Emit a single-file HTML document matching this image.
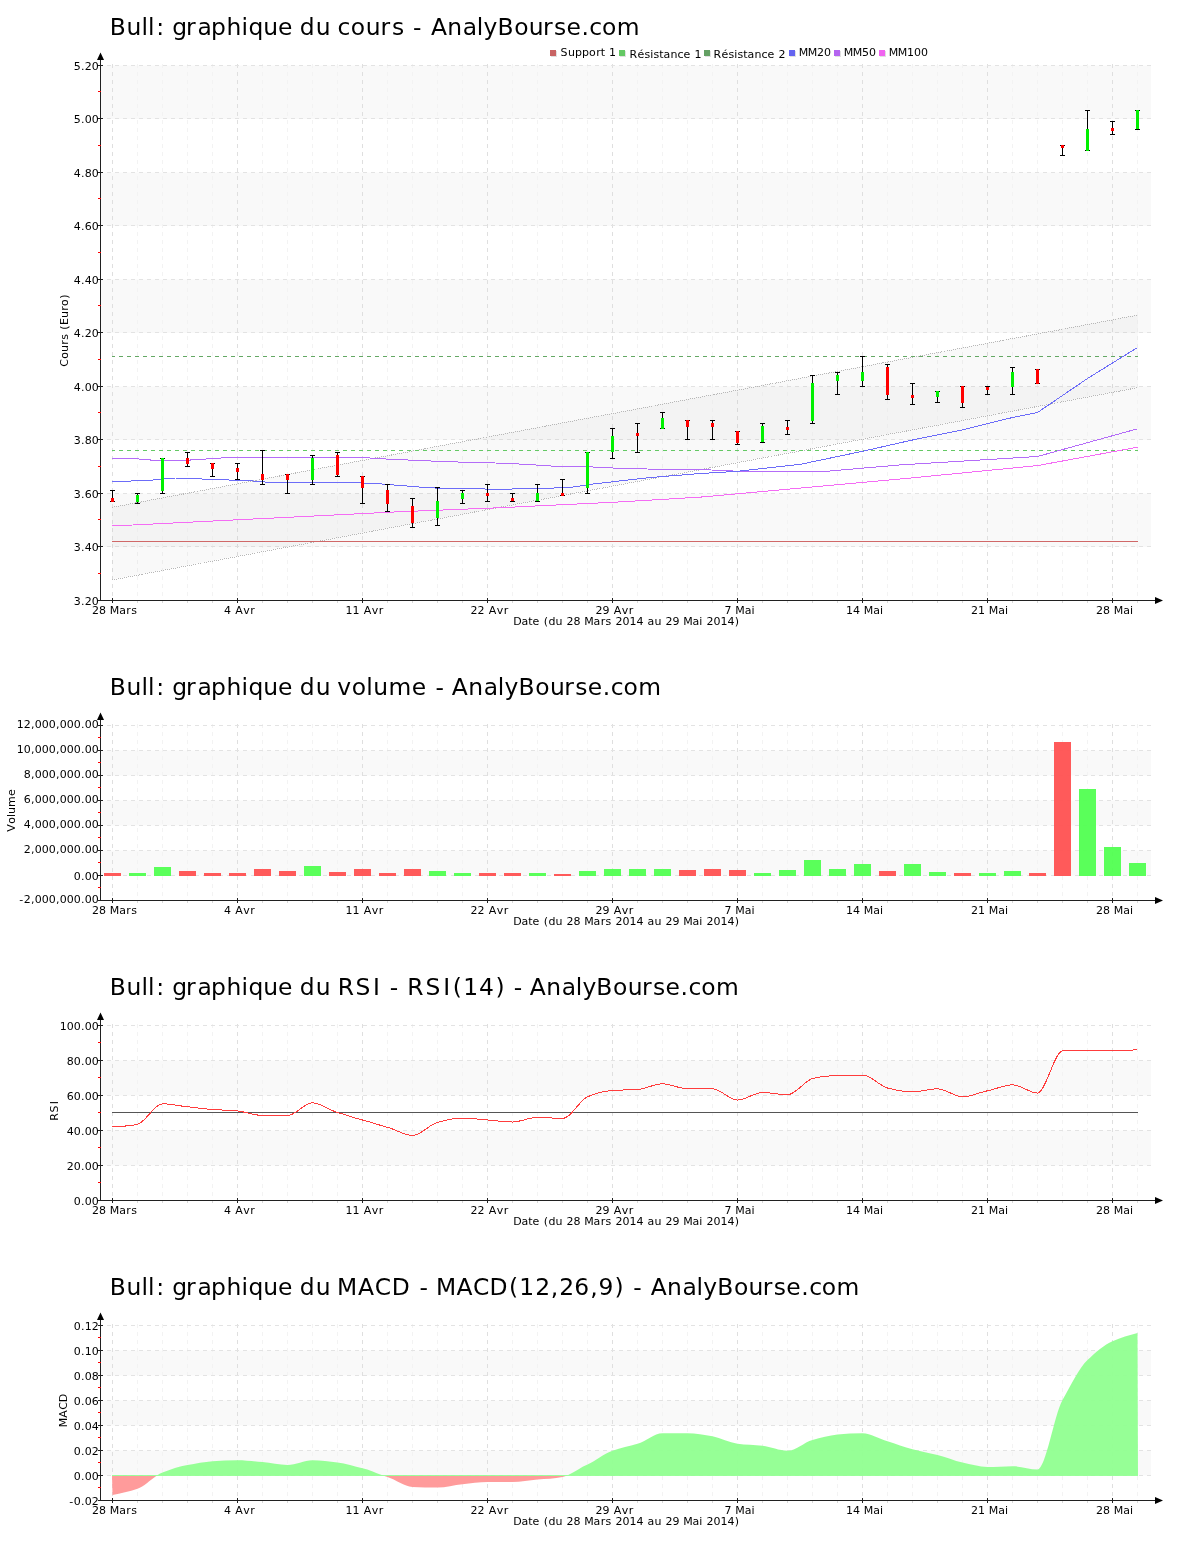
<!DOCTYPE html>
<html lang="fr"><head><meta charset="utf-8"><title>Bull - AnalyBourse.com</title>
<style>
html,body{margin:0;padding:0;background:#fff}
svg{display:block}
text{font-family:'DejaVu Sans','Liberation Sans',sans-serif;fill:#000}
.t{font-size:23.4px}
.s{font-size:11px}
</style></head><body>
<svg width="1200" height="1550" viewBox="0 0 1200 1550">
<rect width="1200" height="1550" fill="#fff"/>
<rect x="101" y="493.50" width="1050" height="53.50" fill="#f9f9f9"/>
<rect x="101" y="386.50" width="1050" height="53.50" fill="#f9f9f9"/>
<rect x="101" y="279.50" width="1050" height="53.50" fill="#f9f9f9"/>
<rect x="101" y="172.50" width="1050" height="53.50" fill="#f9f9f9"/>
<rect x="101" y="65.50" width="1050" height="53.50" fill="#f9f9f9"/>
<line x1="112.5" y1="64" x2="112.5" y2="600" stroke="#dfdfdf" stroke-dasharray="4 4" shape-rendering="crispEdges"/>
<line x1="137.5" y1="64" x2="137.5" y2="600" stroke="#f3f3f3" stroke-dasharray="4 4" shape-rendering="crispEdges"/>
<line x1="162.5" y1="64" x2="162.5" y2="600" stroke="#f3f3f3" stroke-dasharray="4 4" shape-rendering="crispEdges"/>
<line x1="187.5" y1="64" x2="187.5" y2="600" stroke="#f3f3f3" stroke-dasharray="4 4" shape-rendering="crispEdges"/>
<line x1="212.5" y1="64" x2="212.5" y2="600" stroke="#f3f3f3" stroke-dasharray="4 4" shape-rendering="crispEdges"/>
<line x1="237.5" y1="64" x2="237.5" y2="600" stroke="#dfdfdf" stroke-dasharray="4 4" shape-rendering="crispEdges"/>
<line x1="262.5" y1="64" x2="262.5" y2="600" stroke="#f3f3f3" stroke-dasharray="4 4" shape-rendering="crispEdges"/>
<line x1="287.5" y1="64" x2="287.5" y2="600" stroke="#f3f3f3" stroke-dasharray="4 4" shape-rendering="crispEdges"/>
<line x1="312.5" y1="64" x2="312.5" y2="600" stroke="#f3f3f3" stroke-dasharray="4 4" shape-rendering="crispEdges"/>
<line x1="337.5" y1="64" x2="337.5" y2="600" stroke="#f3f3f3" stroke-dasharray="4 4" shape-rendering="crispEdges"/>
<line x1="362.5" y1="64" x2="362.5" y2="600" stroke="#dfdfdf" stroke-dasharray="4 4" shape-rendering="crispEdges"/>
<line x1="387.5" y1="64" x2="387.5" y2="600" stroke="#f3f3f3" stroke-dasharray="4 4" shape-rendering="crispEdges"/>
<line x1="412.5" y1="64" x2="412.5" y2="600" stroke="#f3f3f3" stroke-dasharray="4 4" shape-rendering="crispEdges"/>
<line x1="437.5" y1="64" x2="437.5" y2="600" stroke="#f3f3f3" stroke-dasharray="4 4" shape-rendering="crispEdges"/>
<line x1="462.5" y1="64" x2="462.5" y2="600" stroke="#f3f3f3" stroke-dasharray="4 4" shape-rendering="crispEdges"/>
<line x1="487.5" y1="64" x2="487.5" y2="600" stroke="#dfdfdf" stroke-dasharray="4 4" shape-rendering="crispEdges"/>
<line x1="512.5" y1="64" x2="512.5" y2="600" stroke="#f3f3f3" stroke-dasharray="4 4" shape-rendering="crispEdges"/>
<line x1="537.5" y1="64" x2="537.5" y2="600" stroke="#f3f3f3" stroke-dasharray="4 4" shape-rendering="crispEdges"/>
<line x1="562.5" y1="64" x2="562.5" y2="600" stroke="#f3f3f3" stroke-dasharray="4 4" shape-rendering="crispEdges"/>
<line x1="587.5" y1="64" x2="587.5" y2="600" stroke="#f3f3f3" stroke-dasharray="4 4" shape-rendering="crispEdges"/>
<line x1="612.5" y1="64" x2="612.5" y2="600" stroke="#dfdfdf" stroke-dasharray="4 4" shape-rendering="crispEdges"/>
<line x1="637.5" y1="64" x2="637.5" y2="600" stroke="#f3f3f3" stroke-dasharray="4 4" shape-rendering="crispEdges"/>
<line x1="662.5" y1="64" x2="662.5" y2="600" stroke="#f3f3f3" stroke-dasharray="4 4" shape-rendering="crispEdges"/>
<line x1="687.5" y1="64" x2="687.5" y2="600" stroke="#f3f3f3" stroke-dasharray="4 4" shape-rendering="crispEdges"/>
<line x1="712.5" y1="64" x2="712.5" y2="600" stroke="#f3f3f3" stroke-dasharray="4 4" shape-rendering="crispEdges"/>
<line x1="737.5" y1="64" x2="737.5" y2="600" stroke="#dfdfdf" stroke-dasharray="4 4" shape-rendering="crispEdges"/>
<line x1="762.5" y1="64" x2="762.5" y2="600" stroke="#f3f3f3" stroke-dasharray="4 4" shape-rendering="crispEdges"/>
<line x1="787.5" y1="64" x2="787.5" y2="600" stroke="#f3f3f3" stroke-dasharray="4 4" shape-rendering="crispEdges"/>
<line x1="812.5" y1="64" x2="812.5" y2="600" stroke="#f3f3f3" stroke-dasharray="4 4" shape-rendering="crispEdges"/>
<line x1="837.5" y1="64" x2="837.5" y2="600" stroke="#f3f3f3" stroke-dasharray="4 4" shape-rendering="crispEdges"/>
<line x1="862.5" y1="64" x2="862.5" y2="600" stroke="#dfdfdf" stroke-dasharray="4 4" shape-rendering="crispEdges"/>
<line x1="887.5" y1="64" x2="887.5" y2="600" stroke="#f3f3f3" stroke-dasharray="4 4" shape-rendering="crispEdges"/>
<line x1="912.5" y1="64" x2="912.5" y2="600" stroke="#f3f3f3" stroke-dasharray="4 4" shape-rendering="crispEdges"/>
<line x1="937.5" y1="64" x2="937.5" y2="600" stroke="#f3f3f3" stroke-dasharray="4 4" shape-rendering="crispEdges"/>
<line x1="962.5" y1="64" x2="962.5" y2="600" stroke="#f3f3f3" stroke-dasharray="4 4" shape-rendering="crispEdges"/>
<line x1="987.5" y1="64" x2="987.5" y2="600" stroke="#dfdfdf" stroke-dasharray="4 4" shape-rendering="crispEdges"/>
<line x1="1012.5" y1="64" x2="1012.5" y2="600" stroke="#f3f3f3" stroke-dasharray="4 4" shape-rendering="crispEdges"/>
<line x1="1037.5" y1="64" x2="1037.5" y2="600" stroke="#f3f3f3" stroke-dasharray="4 4" shape-rendering="crispEdges"/>
<line x1="1062.5" y1="64" x2="1062.5" y2="600" stroke="#f3f3f3" stroke-dasharray="4 4" shape-rendering="crispEdges"/>
<line x1="1087.5" y1="64" x2="1087.5" y2="600" stroke="#f3f3f3" stroke-dasharray="4 4" shape-rendering="crispEdges"/>
<line x1="1112.5" y1="64" x2="1112.5" y2="600" stroke="#dfdfdf" stroke-dasharray="4 4" shape-rendering="crispEdges"/>
<line x1="1137.5" y1="64" x2="1137.5" y2="600" stroke="#f3f3f3" stroke-dasharray="4 4" shape-rendering="crispEdges"/>
<line x1="99" y1="65.5" x2="1151" y2="65.5" stroke="#e3e3e3" stroke-dasharray="4 4" shape-rendering="crispEdges"/>
<line x1="99" y1="118.5" x2="1151" y2="118.5" stroke="#e3e3e3" stroke-dasharray="4 4" shape-rendering="crispEdges"/>
<line x1="99" y1="172.5" x2="1151" y2="172.5" stroke="#e3e3e3" stroke-dasharray="4 4" shape-rendering="crispEdges"/>
<line x1="99" y1="225.5" x2="1151" y2="225.5" stroke="#e3e3e3" stroke-dasharray="4 4" shape-rendering="crispEdges"/>
<line x1="99" y1="279.5" x2="1151" y2="279.5" stroke="#e3e3e3" stroke-dasharray="4 4" shape-rendering="crispEdges"/>
<line x1="99" y1="332.5" x2="1151" y2="332.5" stroke="#e3e3e3" stroke-dasharray="4 4" shape-rendering="crispEdges"/>
<line x1="99" y1="386.5" x2="1151" y2="386.5" stroke="#e3e3e3" stroke-dasharray="4 4" shape-rendering="crispEdges"/>
<line x1="99" y1="439.5" x2="1151" y2="439.5" stroke="#e3e3e3" stroke-dasharray="4 4" shape-rendering="crispEdges"/>
<line x1="99" y1="493.5" x2="1151" y2="493.5" stroke="#e3e3e3" stroke-dasharray="4 4" shape-rendering="crispEdges"/>
<line x1="99" y1="546.5" x2="1151" y2="546.5" stroke="#e3e3e3" stroke-dasharray="4 4" shape-rendering="crispEdges"/>
<line x1="99" y1="600.5" x2="1151" y2="600.5" stroke="#e3e3e3" stroke-dasharray="4 4" shape-rendering="crispEdges"/>
<polygon points="112,506.9 1138,314.6 1138,387.1 112,579.5" fill="#000" fill-opacity="0.024"/>
<line x1="112" y1="507.4" x2="1138" y2="315.1" stroke="#b8b8b8" stroke-width="1" stroke-dasharray="1 1" shape-rendering="crispEdges"/>
<line x1="112" y1="580.0" x2="1138" y2="387.6" stroke="#b8b8b8" stroke-width="1" stroke-dasharray="1 1" shape-rendering="crispEdges"/>
<line x1="112" y1="541.5" x2="1138" y2="541.5" stroke="#d06868" stroke-width="1"/>
<line x1="112" y1="450.5" x2="1138" y2="450.5" stroke="#64c864" stroke-width="1" stroke-dasharray="4 4" stroke-dashoffset="1"/>
<line x1="112" y1="356.5" x2="1138" y2="356.5" stroke="#64a864" stroke-width="1" stroke-dasharray="4 4" stroke-dashoffset="1"/>
<polyline points="112.5,526.0 360.5,513.7 400.5,511.7 500.5,507.7 620.5,501.9 700.5,497.1 900.5,479.0 1037.5,465.6 1137.5,447.2" fill="none" stroke="#f46cf4" stroke-width="1" shape-rendering="crispEdges"/>
<polyline points="112.5,458.8 137.5,458.9 150.5,460.0 190.5,460.0 225.5,457.7 300.5,457.7 365.5,457.7 385.5,459.0 400.5,459.7 425.5,460.8 450.5,461.8 495.5,463.0 525.5,464.3 550.5,466.0 600.5,467.2 625.5,468.8 700.5,469.5 750.5,471.8 820.5,471.8 850.5,469.2 900.5,464.9 1037.5,456.5 1137.5,428.8" fill="none" stroke="#b46cf8" stroke-width="1" shape-rendering="crispEdges"/>
<polyline points="112.5,481.8 150.5,480.2 175.5,478.0 193.5,478.0 207.5,479.7 242.5,480.2 267.5,482.2 300.5,483.0 350.5,482.5 375.5,483.5 400.5,485.5 425.5,487.5 450.5,488.8 500.5,489.1 524.5,488.9 570.5,487.5 587.5,484.7 612.5,481.8 650.5,477.5 700.5,473.5 737.5,471.3 800.5,464.3 862.5,451.3 900.5,442.7 912.5,440.0 962.5,429.9 1012.5,417.5 1037.5,412.5 1087.5,378.5 1137.5,347.5" fill="none" stroke="#6c6cf8" stroke-width="1" shape-rendering="crispEdges"/>
<rect x="112" y="490" width="1" height="12" fill="#000"/>
<rect x="110" y="490" width="5" height="1" fill="#000"/>
<rect x="110" y="501" width="5" height="1" fill="#000"/>
<rect x="111" y="498" width="3" height="4" fill="#ff0000"/>
<rect x="137" y="493" width="1" height="11" fill="#000"/>
<rect x="135" y="493" width="5" height="1" fill="#000"/>
<rect x="135" y="503" width="5" height="1" fill="#000"/>
<rect x="136" y="495" width="3" height="7" fill="#00f000"/>
<rect x="162" y="458" width="1" height="36" fill="#000"/>
<rect x="160" y="458" width="5" height="1" fill="#000"/>
<rect x="160" y="493" width="5" height="1" fill="#000"/>
<rect x="161" y="458" width="3" height="33" fill="#00f000"/>
<rect x="187" y="452" width="1" height="15" fill="#000"/>
<rect x="185" y="452" width="5" height="1" fill="#000"/>
<rect x="185" y="466" width="5" height="1" fill="#000"/>
<rect x="186" y="458" width="3" height="6" fill="#ff0000"/>
<rect x="212" y="463" width="1" height="14" fill="#000"/>
<rect x="210" y="463" width="5" height="1" fill="#000"/>
<rect x="210" y="476" width="5" height="1" fill="#000"/>
<rect x="211" y="463" width="3" height="6" fill="#ff0000"/>
<rect x="237" y="463" width="1" height="17" fill="#000"/>
<rect x="235" y="463" width="5" height="1" fill="#000"/>
<rect x="235" y="479" width="5" height="1" fill="#000"/>
<rect x="236" y="468" width="3" height="4" fill="#ff0000"/>
<rect x="262" y="450" width="1" height="35" fill="#000"/>
<rect x="260" y="450" width="5" height="1" fill="#000"/>
<rect x="260" y="484" width="5" height="1" fill="#000"/>
<rect x="261" y="474" width="3" height="6" fill="#ff0000"/>
<rect x="287" y="474" width="1" height="20" fill="#000"/>
<rect x="285" y="474" width="5" height="1" fill="#000"/>
<rect x="285" y="493" width="5" height="1" fill="#000"/>
<rect x="286" y="474" width="3" height="6" fill="#ff0000"/>
<rect x="312" y="455" width="1" height="30" fill="#000"/>
<rect x="310" y="455" width="5" height="1" fill="#000"/>
<rect x="310" y="484" width="5" height="1" fill="#000"/>
<rect x="311" y="458" width="3" height="22" fill="#00f000"/>
<rect x="337" y="452" width="1" height="25" fill="#000"/>
<rect x="335" y="452" width="5" height="1" fill="#000"/>
<rect x="335" y="476" width="5" height="1" fill="#000"/>
<rect x="336" y="455" width="3" height="20" fill="#ff0000"/>
<rect x="362" y="476" width="1" height="28" fill="#000"/>
<rect x="360" y="476" width="5" height="1" fill="#000"/>
<rect x="360" y="503" width="5" height="1" fill="#000"/>
<rect x="361" y="476" width="3" height="12" fill="#ff0000"/>
<rect x="387" y="484" width="1" height="28" fill="#000"/>
<rect x="385" y="484" width="5" height="1" fill="#000"/>
<rect x="385" y="511" width="5" height="1" fill="#000"/>
<rect x="386" y="490" width="3" height="14" fill="#ff0000"/>
<rect x="412" y="498" width="1" height="30" fill="#000"/>
<rect x="410" y="498" width="5" height="1" fill="#000"/>
<rect x="410" y="527" width="5" height="1" fill="#000"/>
<rect x="411" y="506" width="3" height="17" fill="#ff0000"/>
<rect x="437" y="487" width="1" height="39" fill="#000"/>
<rect x="435" y="487" width="5" height="1" fill="#000"/>
<rect x="435" y="525" width="5" height="1" fill="#000"/>
<rect x="436" y="501" width="3" height="17" fill="#00f000"/>
<rect x="462" y="490" width="1" height="14" fill="#000"/>
<rect x="460" y="490" width="5" height="1" fill="#000"/>
<rect x="460" y="503" width="5" height="1" fill="#000"/>
<rect x="461" y="493" width="3" height="6" fill="#00f000"/>
<rect x="487" y="484" width="1" height="18" fill="#000"/>
<rect x="485" y="484" width="5" height="1" fill="#000"/>
<rect x="485" y="501" width="5" height="1" fill="#000"/>
<rect x="486" y="493" width="3" height="3" fill="#ff0000"/>
<rect x="512" y="493" width="1" height="9" fill="#000"/>
<rect x="510" y="493" width="5" height="1" fill="#000"/>
<rect x="510" y="501" width="5" height="1" fill="#000"/>
<rect x="511" y="498" width="3" height="3" fill="#ff0000"/>
<rect x="537" y="484" width="1" height="18" fill="#000"/>
<rect x="535" y="484" width="5" height="1" fill="#000"/>
<rect x="535" y="501" width="5" height="1" fill="#000"/>
<rect x="536" y="493" width="3" height="8" fill="#00f000"/>
<rect x="562" y="479" width="1" height="17" fill="#000"/>
<rect x="560" y="479" width="5" height="1" fill="#000"/>
<rect x="560" y="495" width="5" height="1" fill="#000"/>
<rect x="561" y="493" width="3" height="3" fill="#ff0000"/>
<rect x="587" y="452" width="1" height="42" fill="#000"/>
<rect x="585" y="452" width="5" height="1" fill="#000"/>
<rect x="585" y="493" width="5" height="1" fill="#000"/>
<rect x="586" y="452" width="3" height="36" fill="#00f000"/>
<rect x="612" y="428" width="1" height="31" fill="#000"/>
<rect x="610" y="428" width="5" height="1" fill="#000"/>
<rect x="610" y="458" width="5" height="1" fill="#000"/>
<rect x="611" y="436" width="3" height="16" fill="#00f000"/>
<rect x="637" y="423" width="1" height="30" fill="#000"/>
<rect x="635" y="423" width="5" height="1" fill="#000"/>
<rect x="635" y="452" width="5" height="1" fill="#000"/>
<rect x="636" y="433" width="3" height="3" fill="#ff0000"/>
<rect x="662" y="412" width="1" height="17" fill="#000"/>
<rect x="660" y="412" width="5" height="1" fill="#000"/>
<rect x="660" y="428" width="5" height="1" fill="#000"/>
<rect x="661" y="418" width="3" height="11" fill="#00f000"/>
<rect x="687" y="420" width="1" height="20" fill="#000"/>
<rect x="685" y="420" width="5" height="1" fill="#000"/>
<rect x="685" y="439" width="5" height="1" fill="#000"/>
<rect x="686" y="420" width="3" height="7" fill="#ff0000"/>
<rect x="712" y="420" width="1" height="20" fill="#000"/>
<rect x="710" y="420" width="5" height="1" fill="#000"/>
<rect x="710" y="439" width="5" height="1" fill="#000"/>
<rect x="711" y="423" width="3" height="4" fill="#ff0000"/>
<rect x="737" y="431" width="1" height="14" fill="#000"/>
<rect x="735" y="431" width="5" height="1" fill="#000"/>
<rect x="735" y="444" width="5" height="1" fill="#000"/>
<rect x="736" y="431" width="3" height="12" fill="#ff0000"/>
<rect x="762" y="423" width="1" height="20" fill="#000"/>
<rect x="760" y="423" width="5" height="1" fill="#000"/>
<rect x="760" y="442" width="5" height="1" fill="#000"/>
<rect x="761" y="426" width="3" height="16" fill="#00f000"/>
<rect x="787" y="420" width="1" height="15" fill="#000"/>
<rect x="785" y="420" width="5" height="1" fill="#000"/>
<rect x="785" y="434" width="5" height="1" fill="#000"/>
<rect x="786" y="427" width="3" height="3" fill="#ff0000"/>
<rect x="812" y="375" width="1" height="49" fill="#000"/>
<rect x="810" y="375" width="5" height="1" fill="#000"/>
<rect x="810" y="423" width="5" height="1" fill="#000"/>
<rect x="811" y="383" width="3" height="38" fill="#00f000"/>
<rect x="837" y="372" width="1" height="23" fill="#000"/>
<rect x="835" y="372" width="5" height="1" fill="#000"/>
<rect x="835" y="394" width="5" height="1" fill="#000"/>
<rect x="836" y="375" width="3" height="6" fill="#00f000"/>
<rect x="862" y="356" width="1" height="31" fill="#000"/>
<rect x="860" y="356" width="5" height="1" fill="#000"/>
<rect x="860" y="386" width="5" height="1" fill="#000"/>
<rect x="861" y="372" width="3" height="9" fill="#00f000"/>
<rect x="887" y="364" width="1" height="36" fill="#000"/>
<rect x="885" y="364" width="5" height="1" fill="#000"/>
<rect x="885" y="399" width="5" height="1" fill="#000"/>
<rect x="886" y="367" width="3" height="28" fill="#ff0000"/>
<rect x="912" y="383" width="1" height="22" fill="#000"/>
<rect x="910" y="383" width="5" height="1" fill="#000"/>
<rect x="910" y="404" width="5" height="1" fill="#000"/>
<rect x="911" y="395" width="3" height="3" fill="#ff0000"/>
<rect x="937" y="391" width="1" height="12" fill="#000"/>
<rect x="935" y="391" width="5" height="1" fill="#000"/>
<rect x="935" y="402" width="5" height="1" fill="#000"/>
<rect x="936" y="391" width="3" height="6" fill="#00f000"/>
<rect x="962" y="386" width="1" height="22" fill="#000"/>
<rect x="960" y="386" width="5" height="1" fill="#000"/>
<rect x="960" y="407" width="5" height="1" fill="#000"/>
<rect x="961" y="386" width="3" height="17" fill="#ff0000"/>
<rect x="987" y="386" width="1" height="9" fill="#000"/>
<rect x="985" y="386" width="5" height="1" fill="#000"/>
<rect x="985" y="394" width="5" height="1" fill="#000"/>
<rect x="986" y="387" width="3" height="3" fill="#ff0000"/>
<rect x="1012" y="367" width="1" height="28" fill="#000"/>
<rect x="1010" y="367" width="5" height="1" fill="#000"/>
<rect x="1010" y="394" width="5" height="1" fill="#000"/>
<rect x="1011" y="372" width="3" height="15" fill="#00f000"/>
<rect x="1037" y="369" width="1" height="15" fill="#000"/>
<rect x="1035" y="369" width="5" height="1" fill="#000"/>
<rect x="1035" y="383" width="5" height="1" fill="#000"/>
<rect x="1036" y="369" width="3" height="15" fill="#ff0000"/>
<rect x="1062" y="145" width="1" height="11" fill="#000"/>
<rect x="1060" y="145" width="5" height="1" fill="#000"/>
<rect x="1060" y="155" width="5" height="1" fill="#000"/>
<rect x="1061" y="145" width="3" height="3" fill="#ff0000"/>
<rect x="1087" y="110" width="1" height="41" fill="#000"/>
<rect x="1085" y="110" width="5" height="1" fill="#000"/>
<rect x="1085" y="150" width="5" height="1" fill="#000"/>
<rect x="1086" y="129" width="3" height="22" fill="#00f000"/>
<rect x="1112" y="121" width="1" height="14" fill="#000"/>
<rect x="1110" y="121" width="5" height="1" fill="#000"/>
<rect x="1110" y="134" width="5" height="1" fill="#000"/>
<rect x="1111" y="128" width="3" height="3" fill="#ff0000"/>
<rect x="1137" y="110" width="1" height="20" fill="#000"/>
<rect x="1135" y="110" width="5" height="1" fill="#000"/>
<rect x="1135" y="129" width="5" height="1" fill="#000"/>
<rect x="1136" y="110" width="3" height="19" fill="#00f000"/>
<rect x="551" y="51" width="6" height="6" fill="#000" fill-opacity="0.12"/>
<rect x="550" y="50" width="6" height="6" fill="#c86464"/>
<text x="560.41 567.91 574.91 581.91 589.04 596.14 600.74 605.15 608.9" y="55.8" class="s">Support 1</text>
<rect x="620" y="51" width="6" height="6" fill="#000" fill-opacity="0.12"/>
<rect x="619" y="50" width="6" height="6" fill="#64c864"/>
<text x="629.58 637.52 644.53 650.37 653.53 659.24 663.53 670.41 677.38 683.52 690.65 694.4" y="57.8" class="s">Résistance 1</text>
<rect x="705" y="51" width="6" height="6" fill="#000" fill-opacity="0.12"/>
<rect x="704" y="50" width="6" height="6" fill="#64a064"/>
<text x="713.58 721.52 728.53 734.37 737.53 743.24 747.53 754.41 761.38 767.52 774.65 778.4" y="57.8" class="s">Résistance 2</text>
<rect x="790" y="51" width="6" height="6" fill="#000" fill-opacity="0.12"/>
<rect x="789" y="50" width="6" height="6" fill="#6464f0"/>
<text x="798.65 807.65 816.9 823.9" y="55.8" class="s">MM20</text>
<rect x="835" y="51" width="6" height="6" fill="#000" fill-opacity="0.12"/>
<rect x="834" y="50" width="6" height="6" fill="#b464f0"/>
<text x="843.65 852.65 861.9 868.9" y="55.8" class="s">MM50</text>
<rect x="880" y="51" width="6" height="6" fill="#000" fill-opacity="0.12"/>
<rect x="879" y="50" width="6" height="6" fill="#f064f0"/>
<text x="888.65 897.65 906.9 913.9 920.9" y="55.8" class="s">MM100</text>
<line x1="100.5" y1="59" x2="100.5" y2="601" stroke="#202020" shape-rendering="crispEdges"/>
<path d="M100.5 52.5 L97 60 L104 60 Z" fill="#000"/>
<line x1="100" y1="600.5" x2="1156" y2="600.5" stroke="#202020" shape-rendering="crispEdges"/>
<path d="M1163 600.5 L1155 597 L1155 604 Z" fill="#000"/>
<line x1="98" y1="65.5" x2="103" y2="65.5" stroke="#202020" shape-rendering="crispEdges"/>
<text x="73.8 81.05 84.8 91.8" y="69.6" class="s">5.20</text>
<line x1="98" y1="91.5" x2="101" y2="91.5" stroke="#ff0000" shape-rendering="crispEdges"/>
<line x1="98" y1="118.5" x2="103" y2="118.5" stroke="#202020" shape-rendering="crispEdges"/>
<text x="73.8 81.05 84.8 91.8" y="122.6" class="s">5.00</text>
<line x1="98" y1="145.5" x2="101" y2="145.5" stroke="#ff0000" shape-rendering="crispEdges"/>
<line x1="98" y1="172.5" x2="103" y2="172.5" stroke="#202020" shape-rendering="crispEdges"/>
<text x="73.8 81.05 84.8 91.8" y="176.6" class="s">4.80</text>
<line x1="98" y1="198.5" x2="101" y2="198.5" stroke="#ff0000" shape-rendering="crispEdges"/>
<line x1="98" y1="225.5" x2="103" y2="225.5" stroke="#202020" shape-rendering="crispEdges"/>
<text x="73.8 81.05 84.8 91.8" y="229.6" class="s">4.60</text>
<line x1="98" y1="252.5" x2="101" y2="252.5" stroke="#ff0000" shape-rendering="crispEdges"/>
<line x1="98" y1="279.5" x2="103" y2="279.5" stroke="#202020" shape-rendering="crispEdges"/>
<text x="73.8 81.05 84.8 91.8" y="283.6" class="s">4.40</text>
<line x1="98" y1="305.5" x2="101" y2="305.5" stroke="#ff0000" shape-rendering="crispEdges"/>
<line x1="98" y1="332.5" x2="103" y2="332.5" stroke="#202020" shape-rendering="crispEdges"/>
<text x="73.8 81.05 84.8 91.8" y="336.6" class="s">4.20</text>
<line x1="98" y1="359.5" x2="101" y2="359.5" stroke="#ff0000" shape-rendering="crispEdges"/>
<line x1="98" y1="386.5" x2="103" y2="386.5" stroke="#202020" shape-rendering="crispEdges"/>
<text x="73.8 81.05 84.8 91.8" y="390.6" class="s">4.00</text>
<line x1="98" y1="412.5" x2="101" y2="412.5" stroke="#ff0000" shape-rendering="crispEdges"/>
<line x1="98" y1="439.5" x2="103" y2="439.5" stroke="#202020" shape-rendering="crispEdges"/>
<text x="73.8 81.05 84.8 91.8" y="443.6" class="s">3.80</text>
<line x1="98" y1="466.5" x2="101" y2="466.5" stroke="#ff0000" shape-rendering="crispEdges"/>
<line x1="98" y1="493.5" x2="103" y2="493.5" stroke="#202020" shape-rendering="crispEdges"/>
<text x="73.8 81.05 84.8 91.8" y="497.6" class="s">3.60</text>
<line x1="98" y1="519.5" x2="101" y2="519.5" stroke="#ff0000" shape-rendering="crispEdges"/>
<line x1="98" y1="546.5" x2="103" y2="546.5" stroke="#202020" shape-rendering="crispEdges"/>
<text x="73.8 81.05 84.8 91.8" y="550.6" class="s">3.40</text>
<line x1="98" y1="573.5" x2="101" y2="573.5" stroke="#ff0000" shape-rendering="crispEdges"/>
<line x1="98" y1="600.5" x2="103" y2="600.5" stroke="#202020" shape-rendering="crispEdges"/>
<text x="73.8 81.05 84.8 91.8" y="604.6" class="s">3.20</text>
<line x1="112.5" y1="598" x2="112.5" y2="603" stroke="#202020" shape-rendering="crispEdges"/>
<text x="92 99 106.25 109.75 119.13 126.24 131.13" y="614" class="s">28 Mars</text>
<line x1="137.5" y1="601" x2="137.5" y2="603" stroke="#d8d8d8" shape-rendering="crispEdges"/>
<line x1="162.5" y1="601" x2="162.5" y2="603" stroke="#d8d8d8" shape-rendering="crispEdges"/>
<line x1="187.5" y1="601" x2="187.5" y2="603" stroke="#d8d8d8" shape-rendering="crispEdges"/>
<line x1="212.5" y1="601" x2="212.5" y2="603" stroke="#d8d8d8" shape-rendering="crispEdges"/>
<line x1="237.5" y1="598" x2="237.5" y2="603" stroke="#202020" shape-rendering="crispEdges"/>
<text x="224 231.25 235.24 243.25 250.24" y="614" class="s">4 Avr</text>
<line x1="262.5" y1="601" x2="262.5" y2="603" stroke="#d8d8d8" shape-rendering="crispEdges"/>
<line x1="287.5" y1="601" x2="287.5" y2="603" stroke="#d8d8d8" shape-rendering="crispEdges"/>
<line x1="312.5" y1="601" x2="312.5" y2="603" stroke="#d8d8d8" shape-rendering="crispEdges"/>
<line x1="337.5" y1="601" x2="337.5" y2="603" stroke="#d8d8d8" shape-rendering="crispEdges"/>
<line x1="362.5" y1="598" x2="362.5" y2="603" stroke="#202020" shape-rendering="crispEdges"/>
<text x="345.5 352.5 359.75 363.74 371.75 378.74" y="614" class="s">11 Avr</text>
<line x1="387.5" y1="601" x2="387.5" y2="603" stroke="#d8d8d8" shape-rendering="crispEdges"/>
<line x1="412.5" y1="601" x2="412.5" y2="603" stroke="#d8d8d8" shape-rendering="crispEdges"/>
<line x1="437.5" y1="601" x2="437.5" y2="603" stroke="#d8d8d8" shape-rendering="crispEdges"/>
<line x1="462.5" y1="601" x2="462.5" y2="603" stroke="#d8d8d8" shape-rendering="crispEdges"/>
<line x1="487.5" y1="598" x2="487.5" y2="603" stroke="#202020" shape-rendering="crispEdges"/>
<text x="470.5 477.5 484.75 488.74 496.75 503.74" y="614" class="s">22 Avr</text>
<line x1="512.5" y1="601" x2="512.5" y2="603" stroke="#d8d8d8" shape-rendering="crispEdges"/>
<line x1="537.5" y1="601" x2="537.5" y2="603" stroke="#d8d8d8" shape-rendering="crispEdges"/>
<line x1="562.5" y1="601" x2="562.5" y2="603" stroke="#d8d8d8" shape-rendering="crispEdges"/>
<line x1="587.5" y1="601" x2="587.5" y2="603" stroke="#d8d8d8" shape-rendering="crispEdges"/>
<line x1="612.5" y1="598" x2="612.5" y2="603" stroke="#202020" shape-rendering="crispEdges"/>
<text x="595.5 602.5 609.75 613.74 621.75 628.74" y="614" class="s">29 Avr</text>
<line x1="637.5" y1="601" x2="637.5" y2="603" stroke="#d8d8d8" shape-rendering="crispEdges"/>
<line x1="662.5" y1="601" x2="662.5" y2="603" stroke="#d8d8d8" shape-rendering="crispEdges"/>
<line x1="687.5" y1="601" x2="687.5" y2="603" stroke="#d8d8d8" shape-rendering="crispEdges"/>
<line x1="712.5" y1="601" x2="712.5" y2="603" stroke="#d8d8d8" shape-rendering="crispEdges"/>
<line x1="737.5" y1="598" x2="737.5" y2="603" stroke="#202020" shape-rendering="crispEdges"/>
<text x="724.5 731.75 735.25 744.63 751.47" y="614" class="s">7 Mai</text>
<line x1="762.5" y1="601" x2="762.5" y2="603" stroke="#d8d8d8" shape-rendering="crispEdges"/>
<line x1="787.5" y1="601" x2="787.5" y2="603" stroke="#d8d8d8" shape-rendering="crispEdges"/>
<line x1="812.5" y1="601" x2="812.5" y2="603" stroke="#d8d8d8" shape-rendering="crispEdges"/>
<line x1="837.5" y1="601" x2="837.5" y2="603" stroke="#d8d8d8" shape-rendering="crispEdges"/>
<line x1="862.5" y1="598" x2="862.5" y2="603" stroke="#202020" shape-rendering="crispEdges"/>
<text x="846 853 860.25 863.75 873.13 879.97" y="614" class="s">14 Mai</text>
<line x1="887.5" y1="601" x2="887.5" y2="603" stroke="#d8d8d8" shape-rendering="crispEdges"/>
<line x1="912.5" y1="601" x2="912.5" y2="603" stroke="#d8d8d8" shape-rendering="crispEdges"/>
<line x1="937.5" y1="601" x2="937.5" y2="603" stroke="#d8d8d8" shape-rendering="crispEdges"/>
<line x1="962.5" y1="601" x2="962.5" y2="603" stroke="#d8d8d8" shape-rendering="crispEdges"/>
<line x1="987.5" y1="598" x2="987.5" y2="603" stroke="#202020" shape-rendering="crispEdges"/>
<text x="971 978 985.25 988.75 998.13 1004.97" y="614" class="s">21 Mai</text>
<line x1="1012.5" y1="601" x2="1012.5" y2="603" stroke="#d8d8d8" shape-rendering="crispEdges"/>
<line x1="1037.5" y1="601" x2="1037.5" y2="603" stroke="#d8d8d8" shape-rendering="crispEdges"/>
<line x1="1062.5" y1="601" x2="1062.5" y2="603" stroke="#d8d8d8" shape-rendering="crispEdges"/>
<line x1="1087.5" y1="601" x2="1087.5" y2="603" stroke="#d8d8d8" shape-rendering="crispEdges"/>
<line x1="1112.5" y1="598" x2="1112.5" y2="603" stroke="#202020" shape-rendering="crispEdges"/>
<text x="1096 1103 1110.25 1113.75 1123.13 1129.97" y="614" class="s">28 Mai</text>
<line x1="1137.5" y1="601" x2="1137.5" y2="603" stroke="#d8d8d8" shape-rendering="crispEdges"/>
<text x="513.16 521.53 528.24 532.52 539.65 543.75 548.41 555.41 562.65 566.4 573.4 580.65 584.15 593.53 600.64 605.53 611.65 615.4 622.4 629.4 636.4 643.65 647.53 654.41 661.65 665.4 672.4 679.65 683.15 692.53 699.37 702.65 706.4 713.4 720.4 727.4 734.75" y="624.8" class="s">Date (du 28 Mars 2014 au 29 Mai 2014)</text>
<g transform="translate(68.2 330.5) rotate(-90)"><text x="-36.34 -28.36 -21.49 -14.26 -9.37 -3.25 0.85 5.52 12.51 19.74 24.64 31.85" y="0" class="s">Cours (Euro)</text></g>
<text x="109.7 126.54 141.52 148.1 156.15 166.15 172.31 186.02 197.39 211.01 226.42 241.51 248.5 263.2 278.05 288.05 299.81 315.69 325.69 337.46 350.64 365.85 380.47 391.95 401.95 413.03 423.03 431.07 447.36 462.82 476.86 483.57 497.46 514.14 528.81 542.99 554.06 566.38 581.4 589.36 602.06 616.69" y="34.5" class="t">Bull: graphique du cours - AnalyBourse.com</text>
<rect x="101" y="850.50" width="1050" height="25.00" fill="#f9f9f9"/>
<rect x="101" y="800.50" width="1050" height="25.00" fill="#f9f9f9"/>
<rect x="101" y="750.50" width="1050" height="25.00" fill="#f9f9f9"/>
<line x1="112.5" y1="724" x2="112.5" y2="900" stroke="#dfdfdf" stroke-dasharray="4 4" shape-rendering="crispEdges"/>
<line x1="137.5" y1="724" x2="137.5" y2="900" stroke="#f3f3f3" stroke-dasharray="4 4" shape-rendering="crispEdges"/>
<line x1="162.5" y1="724" x2="162.5" y2="900" stroke="#f3f3f3" stroke-dasharray="4 4" shape-rendering="crispEdges"/>
<line x1="187.5" y1="724" x2="187.5" y2="900" stroke="#f3f3f3" stroke-dasharray="4 4" shape-rendering="crispEdges"/>
<line x1="212.5" y1="724" x2="212.5" y2="900" stroke="#f3f3f3" stroke-dasharray="4 4" shape-rendering="crispEdges"/>
<line x1="237.5" y1="724" x2="237.5" y2="900" stroke="#dfdfdf" stroke-dasharray="4 4" shape-rendering="crispEdges"/>
<line x1="262.5" y1="724" x2="262.5" y2="900" stroke="#f3f3f3" stroke-dasharray="4 4" shape-rendering="crispEdges"/>
<line x1="287.5" y1="724" x2="287.5" y2="900" stroke="#f3f3f3" stroke-dasharray="4 4" shape-rendering="crispEdges"/>
<line x1="312.5" y1="724" x2="312.5" y2="900" stroke="#f3f3f3" stroke-dasharray="4 4" shape-rendering="crispEdges"/>
<line x1="337.5" y1="724" x2="337.5" y2="900" stroke="#f3f3f3" stroke-dasharray="4 4" shape-rendering="crispEdges"/>
<line x1="362.5" y1="724" x2="362.5" y2="900" stroke="#dfdfdf" stroke-dasharray="4 4" shape-rendering="crispEdges"/>
<line x1="387.5" y1="724" x2="387.5" y2="900" stroke="#f3f3f3" stroke-dasharray="4 4" shape-rendering="crispEdges"/>
<line x1="412.5" y1="724" x2="412.5" y2="900" stroke="#f3f3f3" stroke-dasharray="4 4" shape-rendering="crispEdges"/>
<line x1="437.5" y1="724" x2="437.5" y2="900" stroke="#f3f3f3" stroke-dasharray="4 4" shape-rendering="crispEdges"/>
<line x1="462.5" y1="724" x2="462.5" y2="900" stroke="#f3f3f3" stroke-dasharray="4 4" shape-rendering="crispEdges"/>
<line x1="487.5" y1="724" x2="487.5" y2="900" stroke="#dfdfdf" stroke-dasharray="4 4" shape-rendering="crispEdges"/>
<line x1="512.5" y1="724" x2="512.5" y2="900" stroke="#f3f3f3" stroke-dasharray="4 4" shape-rendering="crispEdges"/>
<line x1="537.5" y1="724" x2="537.5" y2="900" stroke="#f3f3f3" stroke-dasharray="4 4" shape-rendering="crispEdges"/>
<line x1="562.5" y1="724" x2="562.5" y2="900" stroke="#f3f3f3" stroke-dasharray="4 4" shape-rendering="crispEdges"/>
<line x1="587.5" y1="724" x2="587.5" y2="900" stroke="#f3f3f3" stroke-dasharray="4 4" shape-rendering="crispEdges"/>
<line x1="612.5" y1="724" x2="612.5" y2="900" stroke="#dfdfdf" stroke-dasharray="4 4" shape-rendering="crispEdges"/>
<line x1="637.5" y1="724" x2="637.5" y2="900" stroke="#f3f3f3" stroke-dasharray="4 4" shape-rendering="crispEdges"/>
<line x1="662.5" y1="724" x2="662.5" y2="900" stroke="#f3f3f3" stroke-dasharray="4 4" shape-rendering="crispEdges"/>
<line x1="687.5" y1="724" x2="687.5" y2="900" stroke="#f3f3f3" stroke-dasharray="4 4" shape-rendering="crispEdges"/>
<line x1="712.5" y1="724" x2="712.5" y2="900" stroke="#f3f3f3" stroke-dasharray="4 4" shape-rendering="crispEdges"/>
<line x1="737.5" y1="724" x2="737.5" y2="900" stroke="#dfdfdf" stroke-dasharray="4 4" shape-rendering="crispEdges"/>
<line x1="762.5" y1="724" x2="762.5" y2="900" stroke="#f3f3f3" stroke-dasharray="4 4" shape-rendering="crispEdges"/>
<line x1="787.5" y1="724" x2="787.5" y2="900" stroke="#f3f3f3" stroke-dasharray="4 4" shape-rendering="crispEdges"/>
<line x1="812.5" y1="724" x2="812.5" y2="900" stroke="#f3f3f3" stroke-dasharray="4 4" shape-rendering="crispEdges"/>
<line x1="837.5" y1="724" x2="837.5" y2="900" stroke="#f3f3f3" stroke-dasharray="4 4" shape-rendering="crispEdges"/>
<line x1="862.5" y1="724" x2="862.5" y2="900" stroke="#dfdfdf" stroke-dasharray="4 4" shape-rendering="crispEdges"/>
<line x1="887.5" y1="724" x2="887.5" y2="900" stroke="#f3f3f3" stroke-dasharray="4 4" shape-rendering="crispEdges"/>
<line x1="912.5" y1="724" x2="912.5" y2="900" stroke="#f3f3f3" stroke-dasharray="4 4" shape-rendering="crispEdges"/>
<line x1="937.5" y1="724" x2="937.5" y2="900" stroke="#f3f3f3" stroke-dasharray="4 4" shape-rendering="crispEdges"/>
<line x1="962.5" y1="724" x2="962.5" y2="900" stroke="#f3f3f3" stroke-dasharray="4 4" shape-rendering="crispEdges"/>
<line x1="987.5" y1="724" x2="987.5" y2="900" stroke="#dfdfdf" stroke-dasharray="4 4" shape-rendering="crispEdges"/>
<line x1="1012.5" y1="724" x2="1012.5" y2="900" stroke="#f3f3f3" stroke-dasharray="4 4" shape-rendering="crispEdges"/>
<line x1="1037.5" y1="724" x2="1037.5" y2="900" stroke="#f3f3f3" stroke-dasharray="4 4" shape-rendering="crispEdges"/>
<line x1="1062.5" y1="724" x2="1062.5" y2="900" stroke="#f3f3f3" stroke-dasharray="4 4" shape-rendering="crispEdges"/>
<line x1="1087.5" y1="724" x2="1087.5" y2="900" stroke="#f3f3f3" stroke-dasharray="4 4" shape-rendering="crispEdges"/>
<line x1="1112.5" y1="724" x2="1112.5" y2="900" stroke="#dfdfdf" stroke-dasharray="4 4" shape-rendering="crispEdges"/>
<line x1="1137.5" y1="724" x2="1137.5" y2="900" stroke="#f3f3f3" stroke-dasharray="4 4" shape-rendering="crispEdges"/>
<line x1="99" y1="725.5" x2="1151" y2="725.5" stroke="#e3e3e3" stroke-dasharray="4 4" shape-rendering="crispEdges"/>
<line x1="99" y1="750.5" x2="1151" y2="750.5" stroke="#e3e3e3" stroke-dasharray="4 4" shape-rendering="crispEdges"/>
<line x1="99" y1="775.5" x2="1151" y2="775.5" stroke="#e3e3e3" stroke-dasharray="4 4" shape-rendering="crispEdges"/>
<line x1="99" y1="800.5" x2="1151" y2="800.5" stroke="#e3e3e3" stroke-dasharray="4 4" shape-rendering="crispEdges"/>
<line x1="99" y1="825.5" x2="1151" y2="825.5" stroke="#e3e3e3" stroke-dasharray="4 4" shape-rendering="crispEdges"/>
<line x1="99" y1="850.5" x2="1151" y2="850.5" stroke="#e3e3e3" stroke-dasharray="4 4" shape-rendering="crispEdges"/>
<line x1="99" y1="875.5" x2="1151" y2="875.5" stroke="#e3e3e3" stroke-dasharray="4 4" shape-rendering="crispEdges"/>
<line x1="99" y1="900.5" x2="1151" y2="900.5" stroke="#e3e3e3" stroke-dasharray="4 4" shape-rendering="crispEdges"/>
<rect x="104" y="873" width="17" height="3" fill="#ff5050" fill-opacity="0.94"/>
<rect x="129" y="873" width="17" height="3" fill="#50ff50" fill-opacity="0.94"/>
<rect x="154" y="867" width="17" height="9" fill="#50ff50" fill-opacity="0.94"/>
<rect x="179" y="871" width="17" height="5" fill="#ff5050" fill-opacity="0.94"/>
<rect x="204" y="873" width="17" height="3" fill="#ff5050" fill-opacity="0.94"/>
<rect x="229" y="873" width="17" height="3" fill="#ff5050" fill-opacity="0.94"/>
<rect x="254" y="869" width="17" height="7" fill="#ff5050" fill-opacity="0.94"/>
<rect x="279" y="871" width="17" height="5" fill="#ff5050" fill-opacity="0.94"/>
<rect x="304" y="866" width="17" height="10" fill="#50ff50" fill-opacity="0.94"/>
<rect x="329" y="872" width="17" height="4" fill="#ff5050" fill-opacity="0.94"/>
<rect x="354" y="869" width="17" height="7" fill="#ff5050" fill-opacity="0.94"/>
<rect x="379" y="873" width="17" height="3" fill="#ff5050" fill-opacity="0.94"/>
<rect x="404" y="869" width="17" height="7" fill="#ff5050" fill-opacity="0.94"/>
<rect x="429" y="871" width="17" height="5" fill="#50ff50" fill-opacity="0.94"/>
<rect x="454" y="873" width="17" height="3" fill="#50ff50" fill-opacity="0.94"/>
<rect x="479" y="873" width="17" height="3" fill="#ff5050" fill-opacity="0.94"/>
<rect x="504" y="873" width="17" height="3" fill="#ff5050" fill-opacity="0.94"/>
<rect x="529" y="873" width="17" height="3" fill="#50ff50" fill-opacity="0.94"/>
<rect x="554" y="874" width="17" height="2" fill="#ff5050" fill-opacity="0.94"/>
<rect x="579" y="871" width="17" height="5" fill="#50ff50" fill-opacity="0.94"/>
<rect x="604" y="869" width="17" height="7" fill="#50ff50" fill-opacity="0.94"/>
<rect x="629" y="869" width="17" height="7" fill="#50ff50" fill-opacity="0.94"/>
<rect x="654" y="869" width="17" height="7" fill="#50ff50" fill-opacity="0.94"/>
<rect x="679" y="870" width="17" height="6" fill="#ff5050" fill-opacity="0.94"/>
<rect x="704" y="869" width="17" height="7" fill="#ff5050" fill-opacity="0.94"/>
<rect x="729" y="870" width="17" height="6" fill="#ff5050" fill-opacity="0.94"/>
<rect x="754" y="873" width="17" height="3" fill="#50ff50" fill-opacity="0.94"/>
<rect x="779" y="870" width="17" height="6" fill="#50ff50" fill-opacity="0.94"/>
<rect x="804" y="860" width="17" height="16" fill="#50ff50" fill-opacity="0.94"/>
<rect x="829" y="869" width="17" height="7" fill="#50ff50" fill-opacity="0.94"/>
<rect x="854" y="864" width="17" height="12" fill="#50ff50" fill-opacity="0.94"/>
<rect x="879" y="871" width="17" height="5" fill="#ff5050" fill-opacity="0.94"/>
<rect x="904" y="864" width="17" height="12" fill="#50ff50" fill-opacity="0.94"/>
<rect x="929" y="872" width="17" height="4" fill="#50ff50" fill-opacity="0.94"/>
<rect x="954" y="873" width="17" height="3" fill="#ff5050" fill-opacity="0.94"/>
<rect x="979" y="873" width="17" height="3" fill="#50ff50" fill-opacity="0.94"/>
<rect x="1004" y="871" width="17" height="5" fill="#50ff50" fill-opacity="0.94"/>
<rect x="1029" y="873" width="17" height="3" fill="#ff5050" fill-opacity="0.94"/>
<rect x="1054" y="742" width="17" height="134" fill="#ff5050" fill-opacity="0.94"/>
<rect x="1079" y="789" width="17" height="87" fill="#50ff50" fill-opacity="0.94"/>
<rect x="1104" y="847" width="17" height="29" fill="#50ff50" fill-opacity="0.94"/>
<rect x="1129" y="863" width="17" height="13" fill="#50ff50" fill-opacity="0.94"/>
<line x1="100.5" y1="719" x2="100.5" y2="901" stroke="#202020" shape-rendering="crispEdges"/>
<path d="M100.5 712.5 L97 720 L104 720 Z" fill="#000"/>
<line x1="100" y1="900.5" x2="1156" y2="900.5" stroke="#202020" shape-rendering="crispEdges"/>
<path d="M1163 900.5 L1155 897 L1155 904 Z" fill="#000"/>
<line x1="98" y1="725.5" x2="103" y2="725.5" stroke="#202020" shape-rendering="crispEdges"/>
<text x="16.8 23.8 31.05 34.8 41.8 48.8 56.05 59.8 66.8 73.8 81.05 84.8 91.8" y="727.9" class="s">12,000,000.00</text>
<line x1="98" y1="737.5" x2="101" y2="737.5" stroke="#ff0000" shape-rendering="crispEdges"/>
<line x1="98" y1="750.5" x2="103" y2="750.5" stroke="#202020" shape-rendering="crispEdges"/>
<text x="16.8 23.8 31.05 34.8 41.8 48.8 56.05 59.8 66.8 73.8 81.05 84.8 91.8" y="752.9" class="s">10,000,000.00</text>
<line x1="98" y1="762.5" x2="101" y2="762.5" stroke="#ff0000" shape-rendering="crispEdges"/>
<line x1="98" y1="775.5" x2="103" y2="775.5" stroke="#202020" shape-rendering="crispEdges"/>
<text x="23.8 31.05 34.8 41.8 48.8 56.05 59.8 66.8 73.8 81.05 84.8 91.8" y="777.9" class="s">8,000,000.00</text>
<line x1="98" y1="787.5" x2="101" y2="787.5" stroke="#ff0000" shape-rendering="crispEdges"/>
<line x1="98" y1="800.5" x2="103" y2="800.5" stroke="#202020" shape-rendering="crispEdges"/>
<text x="23.8 31.05 34.8 41.8 48.8 56.05 59.8 66.8 73.8 81.05 84.8 91.8" y="802.9" class="s">6,000,000.00</text>
<line x1="98" y1="812.5" x2="101" y2="812.5" stroke="#ff0000" shape-rendering="crispEdges"/>
<line x1="98" y1="825.5" x2="103" y2="825.5" stroke="#202020" shape-rendering="crispEdges"/>
<text x="23.8 31.05 34.8 41.8 48.8 56.05 59.8 66.8 73.8 81.05 84.8 91.8" y="827.9" class="s">4,000,000.00</text>
<line x1="98" y1="837.5" x2="101" y2="837.5" stroke="#ff0000" shape-rendering="crispEdges"/>
<line x1="98" y1="850.5" x2="103" y2="850.5" stroke="#202020" shape-rendering="crispEdges"/>
<text x="23.8 31.05 34.8 41.8 48.8 56.05 59.8 66.8 73.8 81.05 84.8 91.8" y="852.9" class="s">2,000,000.00</text>
<line x1="98" y1="862.5" x2="101" y2="862.5" stroke="#ff0000" shape-rendering="crispEdges"/>
<line x1="98" y1="875.5" x2="103" y2="875.5" stroke="#202020" shape-rendering="crispEdges"/>
<text x="73.8 81.05 84.8 91.8" y="879.6" class="s">0.00</text>
<line x1="98" y1="887.5" x2="101" y2="887.5" stroke="#ff0000" shape-rendering="crispEdges"/>
<line x1="98" y1="900.5" x2="103" y2="900.5" stroke="#202020" shape-rendering="crispEdges"/>
<text x="19.32 23.8 31.05 34.8 41.8 48.8 56.05 59.8 66.8 73.8 81.05 84.8 91.8" y="902.9" class="s">-2,000,000.00</text>
<line x1="112.5" y1="898" x2="112.5" y2="903" stroke="#202020" shape-rendering="crispEdges"/>
<text x="92 99 106.25 109.75 119.13 126.24 131.13" y="914" class="s">28 Mars</text>
<line x1="137.5" y1="901" x2="137.5" y2="903" stroke="#d8d8d8" shape-rendering="crispEdges"/>
<line x1="162.5" y1="901" x2="162.5" y2="903" stroke="#d8d8d8" shape-rendering="crispEdges"/>
<line x1="187.5" y1="901" x2="187.5" y2="903" stroke="#d8d8d8" shape-rendering="crispEdges"/>
<line x1="212.5" y1="901" x2="212.5" y2="903" stroke="#d8d8d8" shape-rendering="crispEdges"/>
<line x1="237.5" y1="898" x2="237.5" y2="903" stroke="#202020" shape-rendering="crispEdges"/>
<text x="224 231.25 235.24 243.25 250.24" y="914" class="s">4 Avr</text>
<line x1="262.5" y1="901" x2="262.5" y2="903" stroke="#d8d8d8" shape-rendering="crispEdges"/>
<line x1="287.5" y1="901" x2="287.5" y2="903" stroke="#d8d8d8" shape-rendering="crispEdges"/>
<line x1="312.5" y1="901" x2="312.5" y2="903" stroke="#d8d8d8" shape-rendering="crispEdges"/>
<line x1="337.5" y1="901" x2="337.5" y2="903" stroke="#d8d8d8" shape-rendering="crispEdges"/>
<line x1="362.5" y1="898" x2="362.5" y2="903" stroke="#202020" shape-rendering="crispEdges"/>
<text x="345.5 352.5 359.75 363.74 371.75 378.74" y="914" class="s">11 Avr</text>
<line x1="387.5" y1="901" x2="387.5" y2="903" stroke="#d8d8d8" shape-rendering="crispEdges"/>
<line x1="412.5" y1="901" x2="412.5" y2="903" stroke="#d8d8d8" shape-rendering="crispEdges"/>
<line x1="437.5" y1="901" x2="437.5" y2="903" stroke="#d8d8d8" shape-rendering="crispEdges"/>
<line x1="462.5" y1="901" x2="462.5" y2="903" stroke="#d8d8d8" shape-rendering="crispEdges"/>
<line x1="487.5" y1="898" x2="487.5" y2="903" stroke="#202020" shape-rendering="crispEdges"/>
<text x="470.5 477.5 484.75 488.74 496.75 503.74" y="914" class="s">22 Avr</text>
<line x1="512.5" y1="901" x2="512.5" y2="903" stroke="#d8d8d8" shape-rendering="crispEdges"/>
<line x1="537.5" y1="901" x2="537.5" y2="903" stroke="#d8d8d8" shape-rendering="crispEdges"/>
<line x1="562.5" y1="901" x2="562.5" y2="903" stroke="#d8d8d8" shape-rendering="crispEdges"/>
<line x1="587.5" y1="901" x2="587.5" y2="903" stroke="#d8d8d8" shape-rendering="crispEdges"/>
<line x1="612.5" y1="898" x2="612.5" y2="903" stroke="#202020" shape-rendering="crispEdges"/>
<text x="595.5 602.5 609.75 613.74 621.75 628.74" y="914" class="s">29 Avr</text>
<line x1="637.5" y1="901" x2="637.5" y2="903" stroke="#d8d8d8" shape-rendering="crispEdges"/>
<line x1="662.5" y1="901" x2="662.5" y2="903" stroke="#d8d8d8" shape-rendering="crispEdges"/>
<line x1="687.5" y1="901" x2="687.5" y2="903" stroke="#d8d8d8" shape-rendering="crispEdges"/>
<line x1="712.5" y1="901" x2="712.5" y2="903" stroke="#d8d8d8" shape-rendering="crispEdges"/>
<line x1="737.5" y1="898" x2="737.5" y2="903" stroke="#202020" shape-rendering="crispEdges"/>
<text x="724.5 731.75 735.25 744.63 751.47" y="914" class="s">7 Mai</text>
<line x1="762.5" y1="901" x2="762.5" y2="903" stroke="#d8d8d8" shape-rendering="crispEdges"/>
<line x1="787.5" y1="901" x2="787.5" y2="903" stroke="#d8d8d8" shape-rendering="crispEdges"/>
<line x1="812.5" y1="901" x2="812.5" y2="903" stroke="#d8d8d8" shape-rendering="crispEdges"/>
<line x1="837.5" y1="901" x2="837.5" y2="903" stroke="#d8d8d8" shape-rendering="crispEdges"/>
<line x1="862.5" y1="898" x2="862.5" y2="903" stroke="#202020" shape-rendering="crispEdges"/>
<text x="846 853 860.25 863.75 873.13 879.97" y="914" class="s">14 Mai</text>
<line x1="887.5" y1="901" x2="887.5" y2="903" stroke="#d8d8d8" shape-rendering="crispEdges"/>
<line x1="912.5" y1="901" x2="912.5" y2="903" stroke="#d8d8d8" shape-rendering="crispEdges"/>
<line x1="937.5" y1="901" x2="937.5" y2="903" stroke="#d8d8d8" shape-rendering="crispEdges"/>
<line x1="962.5" y1="901" x2="962.5" y2="903" stroke="#d8d8d8" shape-rendering="crispEdges"/>
<line x1="987.5" y1="898" x2="987.5" y2="903" stroke="#202020" shape-rendering="crispEdges"/>
<text x="971 978 985.25 988.75 998.13 1004.97" y="914" class="s">21 Mai</text>
<line x1="1012.5" y1="901" x2="1012.5" y2="903" stroke="#d8d8d8" shape-rendering="crispEdges"/>
<line x1="1037.5" y1="901" x2="1037.5" y2="903" stroke="#d8d8d8" shape-rendering="crispEdges"/>
<line x1="1062.5" y1="901" x2="1062.5" y2="903" stroke="#d8d8d8" shape-rendering="crispEdges"/>
<line x1="1087.5" y1="901" x2="1087.5" y2="903" stroke="#d8d8d8" shape-rendering="crispEdges"/>
<line x1="1112.5" y1="898" x2="1112.5" y2="903" stroke="#202020" shape-rendering="crispEdges"/>
<text x="1096 1103 1110.25 1113.75 1123.13 1129.97" y="914" class="s">28 Mai</text>
<line x1="1137.5" y1="901" x2="1137.5" y2="903" stroke="#d8d8d8" shape-rendering="crispEdges"/>
<text x="513.16 521.53 528.24 532.52 539.65 543.75 548.41 555.41 562.65 566.4 573.4 580.65 584.15 593.53 600.64 605.53 611.65 615.4 622.4 629.4 636.4 643.65 647.53 654.41 661.65 665.4 672.4 679.65 683.15 692.53 699.37 702.65 706.4 713.4 720.4 727.4 734.75" y="924.8" class="s">Date (du 28 Mars 2014 au 29 Mai 2014)</text>
<g transform="translate(15.1 810.5) rotate(-90)"><text x="-21.26 -13.36 -6.53 -3.49 3.64 14.62" y="0" class="s">Volume</text></g>
<text x="109.7 126.54 141.52 148.1 156.15 166.15 172.31 186.02 197.39 211.01 226.42 241.51 248.5 263.2 278.05 288.05 299.81 315.69 325.69 337.3 351.63 366.23 373.16 388.55 411.85 421.85 435.53 445.53 451.82 468.17 483.69 497.77 504.52 518.48 535.21 549.95 564.17 575.29 587.67 602.73 610.73 623.49 638.19" y="694.5" class="t">Bull: graphique du volume - AnalyBourse.com</text>
<rect x="101" y="1130.50" width="1050" height="35.00" fill="#f9f9f9"/>
<rect x="101" y="1060.50" width="1050" height="35.00" fill="#f9f9f9"/>
<line x1="112.5" y1="1024" x2="112.5" y2="1200" stroke="#dfdfdf" stroke-dasharray="4 4" shape-rendering="crispEdges"/>
<line x1="137.5" y1="1024" x2="137.5" y2="1200" stroke="#f3f3f3" stroke-dasharray="4 4" shape-rendering="crispEdges"/>
<line x1="162.5" y1="1024" x2="162.5" y2="1200" stroke="#f3f3f3" stroke-dasharray="4 4" shape-rendering="crispEdges"/>
<line x1="187.5" y1="1024" x2="187.5" y2="1200" stroke="#f3f3f3" stroke-dasharray="4 4" shape-rendering="crispEdges"/>
<line x1="212.5" y1="1024" x2="212.5" y2="1200" stroke="#f3f3f3" stroke-dasharray="4 4" shape-rendering="crispEdges"/>
<line x1="237.5" y1="1024" x2="237.5" y2="1200" stroke="#dfdfdf" stroke-dasharray="4 4" shape-rendering="crispEdges"/>
<line x1="262.5" y1="1024" x2="262.5" y2="1200" stroke="#f3f3f3" stroke-dasharray="4 4" shape-rendering="crispEdges"/>
<line x1="287.5" y1="1024" x2="287.5" y2="1200" stroke="#f3f3f3" stroke-dasharray="4 4" shape-rendering="crispEdges"/>
<line x1="312.5" y1="1024" x2="312.5" y2="1200" stroke="#f3f3f3" stroke-dasharray="4 4" shape-rendering="crispEdges"/>
<line x1="337.5" y1="1024" x2="337.5" y2="1200" stroke="#f3f3f3" stroke-dasharray="4 4" shape-rendering="crispEdges"/>
<line x1="362.5" y1="1024" x2="362.5" y2="1200" stroke="#dfdfdf" stroke-dasharray="4 4" shape-rendering="crispEdges"/>
<line x1="387.5" y1="1024" x2="387.5" y2="1200" stroke="#f3f3f3" stroke-dasharray="4 4" shape-rendering="crispEdges"/>
<line x1="412.5" y1="1024" x2="412.5" y2="1200" stroke="#f3f3f3" stroke-dasharray="4 4" shape-rendering="crispEdges"/>
<line x1="437.5" y1="1024" x2="437.5" y2="1200" stroke="#f3f3f3" stroke-dasharray="4 4" shape-rendering="crispEdges"/>
<line x1="462.5" y1="1024" x2="462.5" y2="1200" stroke="#f3f3f3" stroke-dasharray="4 4" shape-rendering="crispEdges"/>
<line x1="487.5" y1="1024" x2="487.5" y2="1200" stroke="#dfdfdf" stroke-dasharray="4 4" shape-rendering="crispEdges"/>
<line x1="512.5" y1="1024" x2="512.5" y2="1200" stroke="#f3f3f3" stroke-dasharray="4 4" shape-rendering="crispEdges"/>
<line x1="537.5" y1="1024" x2="537.5" y2="1200" stroke="#f3f3f3" stroke-dasharray="4 4" shape-rendering="crispEdges"/>
<line x1="562.5" y1="1024" x2="562.5" y2="1200" stroke="#f3f3f3" stroke-dasharray="4 4" shape-rendering="crispEdges"/>
<line x1="587.5" y1="1024" x2="587.5" y2="1200" stroke="#f3f3f3" stroke-dasharray="4 4" shape-rendering="crispEdges"/>
<line x1="612.5" y1="1024" x2="612.5" y2="1200" stroke="#dfdfdf" stroke-dasharray="4 4" shape-rendering="crispEdges"/>
<line x1="637.5" y1="1024" x2="637.5" y2="1200" stroke="#f3f3f3" stroke-dasharray="4 4" shape-rendering="crispEdges"/>
<line x1="662.5" y1="1024" x2="662.5" y2="1200" stroke="#f3f3f3" stroke-dasharray="4 4" shape-rendering="crispEdges"/>
<line x1="687.5" y1="1024" x2="687.5" y2="1200" stroke="#f3f3f3" stroke-dasharray="4 4" shape-rendering="crispEdges"/>
<line x1="712.5" y1="1024" x2="712.5" y2="1200" stroke="#f3f3f3" stroke-dasharray="4 4" shape-rendering="crispEdges"/>
<line x1="737.5" y1="1024" x2="737.5" y2="1200" stroke="#dfdfdf" stroke-dasharray="4 4" shape-rendering="crispEdges"/>
<line x1="762.5" y1="1024" x2="762.5" y2="1200" stroke="#f3f3f3" stroke-dasharray="4 4" shape-rendering="crispEdges"/>
<line x1="787.5" y1="1024" x2="787.5" y2="1200" stroke="#f3f3f3" stroke-dasharray="4 4" shape-rendering="crispEdges"/>
<line x1="812.5" y1="1024" x2="812.5" y2="1200" stroke="#f3f3f3" stroke-dasharray="4 4" shape-rendering="crispEdges"/>
<line x1="837.5" y1="1024" x2="837.5" y2="1200" stroke="#f3f3f3" stroke-dasharray="4 4" shape-rendering="crispEdges"/>
<line x1="862.5" y1="1024" x2="862.5" y2="1200" stroke="#dfdfdf" stroke-dasharray="4 4" shape-rendering="crispEdges"/>
<line x1="887.5" y1="1024" x2="887.5" y2="1200" stroke="#f3f3f3" stroke-dasharray="4 4" shape-rendering="crispEdges"/>
<line x1="912.5" y1="1024" x2="912.5" y2="1200" stroke="#f3f3f3" stroke-dasharray="4 4" shape-rendering="crispEdges"/>
<line x1="937.5" y1="1024" x2="937.5" y2="1200" stroke="#f3f3f3" stroke-dasharray="4 4" shape-rendering="crispEdges"/>
<line x1="962.5" y1="1024" x2="962.5" y2="1200" stroke="#f3f3f3" stroke-dasharray="4 4" shape-rendering="crispEdges"/>
<line x1="987.5" y1="1024" x2="987.5" y2="1200" stroke="#dfdfdf" stroke-dasharray="4 4" shape-rendering="crispEdges"/>
<line x1="1012.5" y1="1024" x2="1012.5" y2="1200" stroke="#f3f3f3" stroke-dasharray="4 4" shape-rendering="crispEdges"/>
<line x1="1037.5" y1="1024" x2="1037.5" y2="1200" stroke="#f3f3f3" stroke-dasharray="4 4" shape-rendering="crispEdges"/>
<line x1="1062.5" y1="1024" x2="1062.5" y2="1200" stroke="#f3f3f3" stroke-dasharray="4 4" shape-rendering="crispEdges"/>
<line x1="1087.5" y1="1024" x2="1087.5" y2="1200" stroke="#f3f3f3" stroke-dasharray="4 4" shape-rendering="crispEdges"/>
<line x1="1112.5" y1="1024" x2="1112.5" y2="1200" stroke="#dfdfdf" stroke-dasharray="4 4" shape-rendering="crispEdges"/>
<line x1="1137.5" y1="1024" x2="1137.5" y2="1200" stroke="#f3f3f3" stroke-dasharray="4 4" shape-rendering="crispEdges"/>
<line x1="99" y1="1025.5" x2="1151" y2="1025.5" stroke="#e3e3e3" stroke-dasharray="4 4" shape-rendering="crispEdges"/>
<line x1="99" y1="1060.5" x2="1151" y2="1060.5" stroke="#e3e3e3" stroke-dasharray="4 4" shape-rendering="crispEdges"/>
<line x1="99" y1="1095.5" x2="1151" y2="1095.5" stroke="#e3e3e3" stroke-dasharray="4 4" shape-rendering="crispEdges"/>
<line x1="99" y1="1130.5" x2="1151" y2="1130.5" stroke="#e3e3e3" stroke-dasharray="4 4" shape-rendering="crispEdges"/>
<line x1="99" y1="1165.5" x2="1151" y2="1165.5" stroke="#e3e3e3" stroke-dasharray="4 4" shape-rendering="crispEdges"/>
<line x1="99" y1="1200.5" x2="1151" y2="1200.5" stroke="#e3e3e3" stroke-dasharray="4 4" shape-rendering="crispEdges"/>
<line x1="112" y1="1112.5" x2="1138" y2="1112.5" stroke="#555" stroke-width="1"/>
<path d="M112.5 1126.8 C120.8 1126.4 129.2 1126.3 137.5 1124.3 C145.8 1122.3 154.2 1103.8 162.5 1103.8 C170.8 1103.8 179.2 1106.0 187.5 1106.8 C195.8 1107.6 204.2 1108.9 212.5 1109.5 C220.8 1110.1 229.2 1110.2 237.5 1111.0 C245.8 1111.8 254.2 1115.5 262.5 1115.5 C270.8 1115.5 279.2 1115.5 287.5 1115.5 C295.8 1115.5 304.2 1102.8 312.5 1102.8 C320.8 1102.8 329.2 1110.2 337.5 1112.5 C345.8 1114.8 354.2 1118.0 362.5 1120.0 C370.8 1122.0 379.2 1125.2 387.5 1127.3 C395.8 1129.4 404.2 1135.5 412.5 1135.5 C420.8 1135.5 429.2 1124.6 437.5 1122.3 C445.8 1120.0 454.2 1118.0 462.5 1118.0 C470.8 1118.0 479.2 1119.5 487.5 1120.0 C495.8 1120.5 504.2 1122.0 512.5 1122.0 C520.8 1122.0 529.2 1117.3 537.5 1117.3 C545.8 1117.3 554.2 1118.5 562.5 1118.5 C570.8 1118.5 579.2 1100.5 587.5 1096.8 C595.8 1093.1 604.2 1091.1 612.5 1090.5 C620.8 1089.9 629.2 1090.0 637.5 1089.5 C645.8 1089.0 654.2 1083.8 662.5 1083.8 C670.8 1083.8 679.2 1088.8 687.5 1088.8 C695.8 1088.8 704.2 1088.8 712.5 1088.8 C720.8 1088.8 729.2 1100.0 737.5 1100.0 C745.8 1100.0 754.2 1092.5 762.5 1092.5 C770.8 1092.5 779.2 1094.8 787.5 1094.8 C795.8 1094.8 804.2 1080.9 812.5 1078.5 C820.8 1076.1 829.2 1075.9 837.5 1075.5 C845.8 1075.1 854.2 1075.0 862.5 1075.0 C870.8 1075.0 879.2 1085.8 887.5 1088.0 C895.8 1090.2 904.2 1091.8 912.5 1091.8 C920.8 1091.8 929.2 1088.8 937.5 1088.8 C945.8 1088.8 954.2 1096.8 962.5 1096.8 C970.8 1096.8 979.2 1092.4 987.5 1090.8 C995.8 1089.2 1004.2 1084.8 1012.5 1084.8 C1020.8 1084.8 1029.2 1093.0 1037.5 1093.0 C1045.8 1093.0 1054.2 1051.4 1062.5 1051.0 C1070.8 1050.6 1079.2 1050.5 1087.5 1050.5 C1095.8 1050.5 1104.2 1051.0 1112.5 1051.0 C1120.8 1051.0 1129.2 1050.1 1137.5 1049.8" fill="none" stroke="#ff3c3c" stroke-width="1" shape-rendering="crispEdges"/>
<line x1="100.5" y1="1019" x2="100.5" y2="1201" stroke="#202020" shape-rendering="crispEdges"/>
<path d="M100.5 1012.5 L97 1020 L104 1020 Z" fill="#000"/>
<line x1="100" y1="1200.5" x2="1156" y2="1200.5" stroke="#202020" shape-rendering="crispEdges"/>
<path d="M1163 1200.5 L1155 1197 L1155 1204 Z" fill="#000"/>
<line x1="98" y1="1025.5" x2="103" y2="1025.5" stroke="#202020" shape-rendering="crispEdges"/>
<text x="59.8 66.8 73.8 81.05 84.8 91.8" y="1029.6" class="s">100.00</text>
<line x1="98" y1="1042.5" x2="101" y2="1042.5" stroke="#ff0000" shape-rendering="crispEdges"/>
<line x1="98" y1="1060.5" x2="103" y2="1060.5" stroke="#202020" shape-rendering="crispEdges"/>
<text x="66.8 73.8 81.05 84.8 91.8" y="1064.6" class="s">80.00</text>
<line x1="98" y1="1077.5" x2="101" y2="1077.5" stroke="#ff0000" shape-rendering="crispEdges"/>
<line x1="98" y1="1095.5" x2="103" y2="1095.5" stroke="#202020" shape-rendering="crispEdges"/>
<text x="66.8 73.8 81.05 84.8 91.8" y="1099.6" class="s">60.00</text>
<line x1="98" y1="1112.5" x2="101" y2="1112.5" stroke="#ff0000" shape-rendering="crispEdges"/>
<line x1="98" y1="1130.5" x2="103" y2="1130.5" stroke="#202020" shape-rendering="crispEdges"/>
<text x="66.8 73.8 81.05 84.8 91.8" y="1134.6" class="s">40.00</text>
<line x1="98" y1="1147.5" x2="101" y2="1147.5" stroke="#ff0000" shape-rendering="crispEdges"/>
<line x1="98" y1="1165.5" x2="103" y2="1165.5" stroke="#202020" shape-rendering="crispEdges"/>
<text x="66.8 73.8 81.05 84.8 91.8" y="1169.6" class="s">20.00</text>
<line x1="98" y1="1182.5" x2="101" y2="1182.5" stroke="#ff0000" shape-rendering="crispEdges"/>
<line x1="98" y1="1200.5" x2="103" y2="1200.5" stroke="#202020" shape-rendering="crispEdges"/>
<text x="73.8 81.05 84.8 91.8" y="1204.6" class="s">0.00</text>
<line x1="112.5" y1="1198" x2="112.5" y2="1203" stroke="#202020" shape-rendering="crispEdges"/>
<text x="92 99 106.25 109.75 119.13 126.24 131.13" y="1214" class="s">28 Mars</text>
<line x1="137.5" y1="1201" x2="137.5" y2="1203" stroke="#d8d8d8" shape-rendering="crispEdges"/>
<line x1="162.5" y1="1201" x2="162.5" y2="1203" stroke="#d8d8d8" shape-rendering="crispEdges"/>
<line x1="187.5" y1="1201" x2="187.5" y2="1203" stroke="#d8d8d8" shape-rendering="crispEdges"/>
<line x1="212.5" y1="1201" x2="212.5" y2="1203" stroke="#d8d8d8" shape-rendering="crispEdges"/>
<line x1="237.5" y1="1198" x2="237.5" y2="1203" stroke="#202020" shape-rendering="crispEdges"/>
<text x="224 231.25 235.24 243.25 250.24" y="1214" class="s">4 Avr</text>
<line x1="262.5" y1="1201" x2="262.5" y2="1203" stroke="#d8d8d8" shape-rendering="crispEdges"/>
<line x1="287.5" y1="1201" x2="287.5" y2="1203" stroke="#d8d8d8" shape-rendering="crispEdges"/>
<line x1="312.5" y1="1201" x2="312.5" y2="1203" stroke="#d8d8d8" shape-rendering="crispEdges"/>
<line x1="337.5" y1="1201" x2="337.5" y2="1203" stroke="#d8d8d8" shape-rendering="crispEdges"/>
<line x1="362.5" y1="1198" x2="362.5" y2="1203" stroke="#202020" shape-rendering="crispEdges"/>
<text x="345.5 352.5 359.75 363.74 371.75 378.74" y="1214" class="s">11 Avr</text>
<line x1="387.5" y1="1201" x2="387.5" y2="1203" stroke="#d8d8d8" shape-rendering="crispEdges"/>
<line x1="412.5" y1="1201" x2="412.5" y2="1203" stroke="#d8d8d8" shape-rendering="crispEdges"/>
<line x1="437.5" y1="1201" x2="437.5" y2="1203" stroke="#d8d8d8" shape-rendering="crispEdges"/>
<line x1="462.5" y1="1201" x2="462.5" y2="1203" stroke="#d8d8d8" shape-rendering="crispEdges"/>
<line x1="487.5" y1="1198" x2="487.5" y2="1203" stroke="#202020" shape-rendering="crispEdges"/>
<text x="470.5 477.5 484.75 488.74 496.75 503.74" y="1214" class="s">22 Avr</text>
<line x1="512.5" y1="1201" x2="512.5" y2="1203" stroke="#d8d8d8" shape-rendering="crispEdges"/>
<line x1="537.5" y1="1201" x2="537.5" y2="1203" stroke="#d8d8d8" shape-rendering="crispEdges"/>
<line x1="562.5" y1="1201" x2="562.5" y2="1203" stroke="#d8d8d8" shape-rendering="crispEdges"/>
<line x1="587.5" y1="1201" x2="587.5" y2="1203" stroke="#d8d8d8" shape-rendering="crispEdges"/>
<line x1="612.5" y1="1198" x2="612.5" y2="1203" stroke="#202020" shape-rendering="crispEdges"/>
<text x="595.5 602.5 609.75 613.74 621.75 628.74" y="1214" class="s">29 Avr</text>
<line x1="637.5" y1="1201" x2="637.5" y2="1203" stroke="#d8d8d8" shape-rendering="crispEdges"/>
<line x1="662.5" y1="1201" x2="662.5" y2="1203" stroke="#d8d8d8" shape-rendering="crispEdges"/>
<line x1="687.5" y1="1201" x2="687.5" y2="1203" stroke="#d8d8d8" shape-rendering="crispEdges"/>
<line x1="712.5" y1="1201" x2="712.5" y2="1203" stroke="#d8d8d8" shape-rendering="crispEdges"/>
<line x1="737.5" y1="1198" x2="737.5" y2="1203" stroke="#202020" shape-rendering="crispEdges"/>
<text x="724.5 731.75 735.25 744.63 751.47" y="1214" class="s">7 Mai</text>
<line x1="762.5" y1="1201" x2="762.5" y2="1203" stroke="#d8d8d8" shape-rendering="crispEdges"/>
<line x1="787.5" y1="1201" x2="787.5" y2="1203" stroke="#d8d8d8" shape-rendering="crispEdges"/>
<line x1="812.5" y1="1201" x2="812.5" y2="1203" stroke="#d8d8d8" shape-rendering="crispEdges"/>
<line x1="837.5" y1="1201" x2="837.5" y2="1203" stroke="#d8d8d8" shape-rendering="crispEdges"/>
<line x1="862.5" y1="1198" x2="862.5" y2="1203" stroke="#202020" shape-rendering="crispEdges"/>
<text x="846 853 860.25 863.75 873.13 879.97" y="1214" class="s">14 Mai</text>
<line x1="887.5" y1="1201" x2="887.5" y2="1203" stroke="#d8d8d8" shape-rendering="crispEdges"/>
<line x1="912.5" y1="1201" x2="912.5" y2="1203" stroke="#d8d8d8" shape-rendering="crispEdges"/>
<line x1="937.5" y1="1201" x2="937.5" y2="1203" stroke="#d8d8d8" shape-rendering="crispEdges"/>
<line x1="962.5" y1="1201" x2="962.5" y2="1203" stroke="#d8d8d8" shape-rendering="crispEdges"/>
<line x1="987.5" y1="1198" x2="987.5" y2="1203" stroke="#202020" shape-rendering="crispEdges"/>
<text x="971 978 985.25 988.75 998.13 1004.97" y="1214" class="s">21 Mai</text>
<line x1="1012.5" y1="1201" x2="1012.5" y2="1203" stroke="#d8d8d8" shape-rendering="crispEdges"/>
<line x1="1037.5" y1="1201" x2="1037.5" y2="1203" stroke="#d8d8d8" shape-rendering="crispEdges"/>
<line x1="1062.5" y1="1201" x2="1062.5" y2="1203" stroke="#d8d8d8" shape-rendering="crispEdges"/>
<line x1="1087.5" y1="1201" x2="1087.5" y2="1203" stroke="#d8d8d8" shape-rendering="crispEdges"/>
<line x1="1112.5" y1="1198" x2="1112.5" y2="1203" stroke="#202020" shape-rendering="crispEdges"/>
<text x="1096 1103 1110.25 1113.75 1123.13 1129.97" y="1214" class="s">28 Mai</text>
<line x1="1137.5" y1="1201" x2="1137.5" y2="1203" stroke="#d8d8d8" shape-rendering="crispEdges"/>
<text x="513.16 521.53 528.24 532.52 539.65 543.75 548.41 555.41 562.65 566.4 573.4 580.65 584.15 593.53 600.64 605.53 611.65 615.4 622.4 629.4 636.4 643.65 647.53 654.41 661.65 665.4 672.4 679.65 683.15 692.53 699.37 702.65 706.4 713.4 720.4 727.4 734.75" y="1224.8" class="s">Date (du 28 Mars 2014 au 29 Mai 2014)</text>
<g transform="translate(58.1 1110.5) rotate(-90)"><text x="-10.32 -1.99 6.38" y="0" class="s">RSI</text></g>
<text x="109.7 126.54 141.52 148.1 156.15 166.15 172.31 186.02 197.39 211.01 226.42 241.51 248.5 263.2 278.05 288.05 299.81 315.69 325.69 337.7 355.59 372.9 382.9 389.78 399.78 407.2 425.55 443.23 452.81 463.19 479.12 495.38 505.38 513.65 523.65 529.82 546.15 561.65 575.71 582.44 596.37 613.08 627.79 642 653.1 665.45 680.5 688.48 701.22 715.89" y="994.5" class="t">Bull: graphique du RSI - RSI(14) - AnalyBourse.com</text>
<rect x="101" y="1450.50" width="1050" height="25.00" fill="#f9f9f9"/>
<rect x="101" y="1400.50" width="1050" height="25.00" fill="#f9f9f9"/>
<rect x="101" y="1350.50" width="1050" height="25.00" fill="#f9f9f9"/>
<line x1="112.5" y1="1324" x2="112.5" y2="1500" stroke="#dfdfdf" stroke-dasharray="4 4" shape-rendering="crispEdges"/>
<line x1="137.5" y1="1324" x2="137.5" y2="1500" stroke="#f3f3f3" stroke-dasharray="4 4" shape-rendering="crispEdges"/>
<line x1="162.5" y1="1324" x2="162.5" y2="1500" stroke="#f3f3f3" stroke-dasharray="4 4" shape-rendering="crispEdges"/>
<line x1="187.5" y1="1324" x2="187.5" y2="1500" stroke="#f3f3f3" stroke-dasharray="4 4" shape-rendering="crispEdges"/>
<line x1="212.5" y1="1324" x2="212.5" y2="1500" stroke="#f3f3f3" stroke-dasharray="4 4" shape-rendering="crispEdges"/>
<line x1="237.5" y1="1324" x2="237.5" y2="1500" stroke="#dfdfdf" stroke-dasharray="4 4" shape-rendering="crispEdges"/>
<line x1="262.5" y1="1324" x2="262.5" y2="1500" stroke="#f3f3f3" stroke-dasharray="4 4" shape-rendering="crispEdges"/>
<line x1="287.5" y1="1324" x2="287.5" y2="1500" stroke="#f3f3f3" stroke-dasharray="4 4" shape-rendering="crispEdges"/>
<line x1="312.5" y1="1324" x2="312.5" y2="1500" stroke="#f3f3f3" stroke-dasharray="4 4" shape-rendering="crispEdges"/>
<line x1="337.5" y1="1324" x2="337.5" y2="1500" stroke="#f3f3f3" stroke-dasharray="4 4" shape-rendering="crispEdges"/>
<line x1="362.5" y1="1324" x2="362.5" y2="1500" stroke="#dfdfdf" stroke-dasharray="4 4" shape-rendering="crispEdges"/>
<line x1="387.5" y1="1324" x2="387.5" y2="1500" stroke="#f3f3f3" stroke-dasharray="4 4" shape-rendering="crispEdges"/>
<line x1="412.5" y1="1324" x2="412.5" y2="1500" stroke="#f3f3f3" stroke-dasharray="4 4" shape-rendering="crispEdges"/>
<line x1="437.5" y1="1324" x2="437.5" y2="1500" stroke="#f3f3f3" stroke-dasharray="4 4" shape-rendering="crispEdges"/>
<line x1="462.5" y1="1324" x2="462.5" y2="1500" stroke="#f3f3f3" stroke-dasharray="4 4" shape-rendering="crispEdges"/>
<line x1="487.5" y1="1324" x2="487.5" y2="1500" stroke="#dfdfdf" stroke-dasharray="4 4" shape-rendering="crispEdges"/>
<line x1="512.5" y1="1324" x2="512.5" y2="1500" stroke="#f3f3f3" stroke-dasharray="4 4" shape-rendering="crispEdges"/>
<line x1="537.5" y1="1324" x2="537.5" y2="1500" stroke="#f3f3f3" stroke-dasharray="4 4" shape-rendering="crispEdges"/>
<line x1="562.5" y1="1324" x2="562.5" y2="1500" stroke="#f3f3f3" stroke-dasharray="4 4" shape-rendering="crispEdges"/>
<line x1="587.5" y1="1324" x2="587.5" y2="1500" stroke="#f3f3f3" stroke-dasharray="4 4" shape-rendering="crispEdges"/>
<line x1="612.5" y1="1324" x2="612.5" y2="1500" stroke="#dfdfdf" stroke-dasharray="4 4" shape-rendering="crispEdges"/>
<line x1="637.5" y1="1324" x2="637.5" y2="1500" stroke="#f3f3f3" stroke-dasharray="4 4" shape-rendering="crispEdges"/>
<line x1="662.5" y1="1324" x2="662.5" y2="1500" stroke="#f3f3f3" stroke-dasharray="4 4" shape-rendering="crispEdges"/>
<line x1="687.5" y1="1324" x2="687.5" y2="1500" stroke="#f3f3f3" stroke-dasharray="4 4" shape-rendering="crispEdges"/>
<line x1="712.5" y1="1324" x2="712.5" y2="1500" stroke="#f3f3f3" stroke-dasharray="4 4" shape-rendering="crispEdges"/>
<line x1="737.5" y1="1324" x2="737.5" y2="1500" stroke="#dfdfdf" stroke-dasharray="4 4" shape-rendering="crispEdges"/>
<line x1="762.5" y1="1324" x2="762.5" y2="1500" stroke="#f3f3f3" stroke-dasharray="4 4" shape-rendering="crispEdges"/>
<line x1="787.5" y1="1324" x2="787.5" y2="1500" stroke="#f3f3f3" stroke-dasharray="4 4" shape-rendering="crispEdges"/>
<line x1="812.5" y1="1324" x2="812.5" y2="1500" stroke="#f3f3f3" stroke-dasharray="4 4" shape-rendering="crispEdges"/>
<line x1="837.5" y1="1324" x2="837.5" y2="1500" stroke="#f3f3f3" stroke-dasharray="4 4" shape-rendering="crispEdges"/>
<line x1="862.5" y1="1324" x2="862.5" y2="1500" stroke="#dfdfdf" stroke-dasharray="4 4" shape-rendering="crispEdges"/>
<line x1="887.5" y1="1324" x2="887.5" y2="1500" stroke="#f3f3f3" stroke-dasharray="4 4" shape-rendering="crispEdges"/>
<line x1="912.5" y1="1324" x2="912.5" y2="1500" stroke="#f3f3f3" stroke-dasharray="4 4" shape-rendering="crispEdges"/>
<line x1="937.5" y1="1324" x2="937.5" y2="1500" stroke="#f3f3f3" stroke-dasharray="4 4" shape-rendering="crispEdges"/>
<line x1="962.5" y1="1324" x2="962.5" y2="1500" stroke="#f3f3f3" stroke-dasharray="4 4" shape-rendering="crispEdges"/>
<line x1="987.5" y1="1324" x2="987.5" y2="1500" stroke="#dfdfdf" stroke-dasharray="4 4" shape-rendering="crispEdges"/>
<line x1="1012.5" y1="1324" x2="1012.5" y2="1500" stroke="#f3f3f3" stroke-dasharray="4 4" shape-rendering="crispEdges"/>
<line x1="1037.5" y1="1324" x2="1037.5" y2="1500" stroke="#f3f3f3" stroke-dasharray="4 4" shape-rendering="crispEdges"/>
<line x1="1062.5" y1="1324" x2="1062.5" y2="1500" stroke="#f3f3f3" stroke-dasharray="4 4" shape-rendering="crispEdges"/>
<line x1="1087.5" y1="1324" x2="1087.5" y2="1500" stroke="#f3f3f3" stroke-dasharray="4 4" shape-rendering="crispEdges"/>
<line x1="1112.5" y1="1324" x2="1112.5" y2="1500" stroke="#dfdfdf" stroke-dasharray="4 4" shape-rendering="crispEdges"/>
<line x1="1137.5" y1="1324" x2="1137.5" y2="1500" stroke="#f3f3f3" stroke-dasharray="4 4" shape-rendering="crispEdges"/>
<line x1="99" y1="1325.5" x2="1151" y2="1325.5" stroke="#e3e3e3" stroke-dasharray="4 4" shape-rendering="crispEdges"/>
<line x1="99" y1="1350.5" x2="1151" y2="1350.5" stroke="#e3e3e3" stroke-dasharray="4 4" shape-rendering="crispEdges"/>
<line x1="99" y1="1375.5" x2="1151" y2="1375.5" stroke="#e3e3e3" stroke-dasharray="4 4" shape-rendering="crispEdges"/>
<line x1="99" y1="1400.5" x2="1151" y2="1400.5" stroke="#e3e3e3" stroke-dasharray="4 4" shape-rendering="crispEdges"/>
<line x1="99" y1="1425.5" x2="1151" y2="1425.5" stroke="#e3e3e3" stroke-dasharray="4 4" shape-rendering="crispEdges"/>
<line x1="99" y1="1450.5" x2="1151" y2="1450.5" stroke="#e3e3e3" stroke-dasharray="4 4" shape-rendering="crispEdges"/>
<line x1="99" y1="1475.5" x2="1151" y2="1475.5" stroke="#e3e3e3" stroke-dasharray="4 4" shape-rendering="crispEdges"/>
<line x1="99" y1="1500.5" x2="1151" y2="1500.5" stroke="#e3e3e3" stroke-dasharray="4 4" shape-rendering="crispEdges"/>
<clipPath id="cu"><rect x="100" y="1300" width="1060" height="175"/></clipPath>
<clipPath id="cd"><rect x="100" y="1476" width="1060" height="40"/></clipPath>
<path d="M112.5 1495.0 C120.8 1493.3 129.2 1491.8 137.5 1488.8 C145.8 1485.8 154.2 1475.7 162.5 1472.5 C170.8 1469.3 179.2 1466.5 187.5 1465.0 C195.8 1463.5 204.2 1461.9 212.5 1461.2 C220.8 1460.6 229.2 1460.2 237.5 1460.2 C245.8 1460.2 254.2 1461.4 262.5 1462.0 C270.8 1462.6 279.2 1465.0 287.5 1465.0 C295.8 1465.0 304.2 1460.2 312.5 1460.2 C320.8 1460.2 329.2 1461.4 337.5 1462.5 C345.8 1463.6 354.2 1466.3 362.5 1468.2 C370.8 1470.2 379.2 1474.5 387.5 1477.0 C395.8 1479.5 404.2 1486.6 412.5 1487.0 C420.8 1487.4 429.2 1487.5 437.5 1487.5 C445.8 1487.5 454.2 1485.0 462.5 1484.2 C470.8 1483.5 479.2 1482.0 487.5 1482.0 C495.8 1482.0 504.2 1482.0 512.5 1482.0 C520.8 1482.0 529.2 1480.1 537.5 1479.5 C545.8 1478.9 554.2 1478.9 562.5 1477.0 C570.8 1475.1 579.2 1468.0 587.5 1464.5 C595.8 1461.0 604.2 1453.5 612.5 1450.8 C620.8 1448.0 629.2 1446.1 637.5 1443.8 C645.8 1441.4 654.2 1433.2 662.5 1433.2 C670.8 1433.2 679.2 1433.2 687.5 1433.2 C695.8 1433.2 704.2 1434.8 712.5 1436.2 C720.8 1437.7 729.2 1442.5 737.5 1443.8 C745.8 1445.0 754.2 1444.8 762.5 1445.8 C770.8 1446.7 779.2 1450.8 787.5 1450.8 C795.8 1450.8 804.2 1442.2 812.5 1440.0 C820.8 1437.8 829.2 1435.4 837.5 1434.5 C845.8 1433.6 854.2 1433.2 862.5 1433.2 C870.8 1433.2 879.2 1439.1 887.5 1441.2 C895.8 1443.4 904.2 1447.4 912.5 1449.2 C920.8 1451.1 929.2 1453.2 937.5 1455.0 C945.8 1456.8 954.2 1460.9 962.5 1462.5 C970.8 1464.1 979.2 1467.0 987.5 1467.0 C995.8 1467.0 1004.2 1466.2 1012.5 1466.2 C1020.8 1466.2 1029.2 1469.5 1037.5 1469.5 C1045.8 1469.5 1054.2 1414.6 1062.5 1400.0 C1070.8 1385.4 1079.2 1367.8 1087.5 1360.0 C1095.8 1352.2 1104.2 1344.8 1112.5 1341.2 C1120.8 1337.7 1129.2 1335.2 1137.5 1333.0 L1138.0 1476 L112.0 1476 Z" fill="#90ff90" fill-opacity="0.95" clip-path="url(#cu)"/>
<path d="M112.5 1495.0 C120.8 1493.3 129.2 1491.8 137.5 1488.8 C145.8 1485.8 154.2 1475.7 162.5 1472.5 C170.8 1469.3 179.2 1466.5 187.5 1465.0 C195.8 1463.5 204.2 1461.9 212.5 1461.2 C220.8 1460.6 229.2 1460.2 237.5 1460.2 C245.8 1460.2 254.2 1461.4 262.5 1462.0 C270.8 1462.6 279.2 1465.0 287.5 1465.0 C295.8 1465.0 304.2 1460.2 312.5 1460.2 C320.8 1460.2 329.2 1461.4 337.5 1462.5 C345.8 1463.6 354.2 1466.3 362.5 1468.2 C370.8 1470.2 379.2 1474.5 387.5 1477.0 C395.8 1479.5 404.2 1486.6 412.5 1487.0 C420.8 1487.4 429.2 1487.5 437.5 1487.5 C445.8 1487.5 454.2 1485.0 462.5 1484.2 C470.8 1483.5 479.2 1482.0 487.5 1482.0 C495.8 1482.0 504.2 1482.0 512.5 1482.0 C520.8 1482.0 529.2 1480.1 537.5 1479.5 C545.8 1478.9 554.2 1478.9 562.5 1477.0 C570.8 1475.1 579.2 1468.0 587.5 1464.5 C595.8 1461.0 604.2 1453.5 612.5 1450.8 C620.8 1448.0 629.2 1446.1 637.5 1443.8 C645.8 1441.4 654.2 1433.2 662.5 1433.2 C670.8 1433.2 679.2 1433.2 687.5 1433.2 C695.8 1433.2 704.2 1434.8 712.5 1436.2 C720.8 1437.7 729.2 1442.5 737.5 1443.8 C745.8 1445.0 754.2 1444.8 762.5 1445.8 C770.8 1446.7 779.2 1450.8 787.5 1450.8 C795.8 1450.8 804.2 1442.2 812.5 1440.0 C820.8 1437.8 829.2 1435.4 837.5 1434.5 C845.8 1433.6 854.2 1433.2 862.5 1433.2 C870.8 1433.2 879.2 1439.1 887.5 1441.2 C895.8 1443.4 904.2 1447.4 912.5 1449.2 C920.8 1451.1 929.2 1453.2 937.5 1455.0 C945.8 1456.8 954.2 1460.9 962.5 1462.5 C970.8 1464.1 979.2 1467.0 987.5 1467.0 C995.8 1467.0 1004.2 1466.2 1012.5 1466.2 C1020.8 1466.2 1029.2 1469.5 1037.5 1469.5 C1045.8 1469.5 1054.2 1414.6 1062.5 1400.0 C1070.8 1385.4 1079.2 1367.8 1087.5 1360.0 C1095.8 1352.2 1104.2 1344.8 1112.5 1341.2 C1120.8 1337.7 1129.2 1335.2 1137.5 1333.0 L1138.0 1475 L112.0 1475 Z" fill="#ff9696" fill-opacity="0.95" clip-path="url(#cd)"/>
<rect x="112" y="1475" width="1026" height="1" fill="#90ff90" fill-opacity="0.9"/>
<line x1="100.5" y1="1319" x2="100.5" y2="1501" stroke="#202020" shape-rendering="crispEdges"/>
<path d="M100.5 1312.5 L97 1320 L104 1320 Z" fill="#000"/>
<line x1="100" y1="1500.5" x2="1156" y2="1500.5" stroke="#202020" shape-rendering="crispEdges"/>
<path d="M1163 1500.5 L1155 1497 L1155 1504 Z" fill="#000"/>
<line x1="98" y1="1325.5" x2="103" y2="1325.5" stroke="#202020" shape-rendering="crispEdges"/>
<text x="73.8 81.05 84.8 91.8" y="1329.6" class="s">0.12</text>
<line x1="98" y1="1337.5" x2="101" y2="1337.5" stroke="#ff0000" shape-rendering="crispEdges"/>
<line x1="98" y1="1350.5" x2="103" y2="1350.5" stroke="#202020" shape-rendering="crispEdges"/>
<text x="73.8 81.05 84.8 91.8" y="1354.6" class="s">0.10</text>
<line x1="98" y1="1362.5" x2="101" y2="1362.5" stroke="#ff0000" shape-rendering="crispEdges"/>
<line x1="98" y1="1375.5" x2="103" y2="1375.5" stroke="#202020" shape-rendering="crispEdges"/>
<text x="73.8 81.05 84.8 91.8" y="1379.6" class="s">0.08</text>
<line x1="98" y1="1387.5" x2="101" y2="1387.5" stroke="#ff0000" shape-rendering="crispEdges"/>
<line x1="98" y1="1400.5" x2="103" y2="1400.5" stroke="#202020" shape-rendering="crispEdges"/>
<text x="73.8 81.05 84.8 91.8" y="1404.6" class="s">0.06</text>
<line x1="98" y1="1412.5" x2="101" y2="1412.5" stroke="#ff0000" shape-rendering="crispEdges"/>
<line x1="98" y1="1425.5" x2="103" y2="1425.5" stroke="#202020" shape-rendering="crispEdges"/>
<text x="73.8 81.05 84.8 91.8" y="1429.6" class="s">0.04</text>
<line x1="98" y1="1437.5" x2="101" y2="1437.5" stroke="#ff0000" shape-rendering="crispEdges"/>
<line x1="98" y1="1450.5" x2="103" y2="1450.5" stroke="#202020" shape-rendering="crispEdges"/>
<text x="73.8 81.05 84.8 91.8" y="1454.6" class="s">0.02</text>
<line x1="98" y1="1462.5" x2="101" y2="1462.5" stroke="#ff0000" shape-rendering="crispEdges"/>
<line x1="98" y1="1475.5" x2="103" y2="1475.5" stroke="#202020" shape-rendering="crispEdges"/>
<text x="73.8 81.05 84.8 91.8" y="1479.6" class="s">0.00</text>
<line x1="98" y1="1487.5" x2="101" y2="1487.5" stroke="#ff0000" shape-rendering="crispEdges"/>
<line x1="98" y1="1500.5" x2="103" y2="1500.5" stroke="#202020" shape-rendering="crispEdges"/>
<text x="69.32 73.8 81.05 84.8 91.8" y="1504.6" class="s">-0.02</text>
<line x1="112.5" y1="1498" x2="112.5" y2="1503" stroke="#202020" shape-rendering="crispEdges"/>
<text x="92 99 106.25 109.75 119.13 126.24 131.13" y="1514" class="s">28 Mars</text>
<line x1="137.5" y1="1501" x2="137.5" y2="1503" stroke="#d8d8d8" shape-rendering="crispEdges"/>
<line x1="162.5" y1="1501" x2="162.5" y2="1503" stroke="#d8d8d8" shape-rendering="crispEdges"/>
<line x1="187.5" y1="1501" x2="187.5" y2="1503" stroke="#d8d8d8" shape-rendering="crispEdges"/>
<line x1="212.5" y1="1501" x2="212.5" y2="1503" stroke="#d8d8d8" shape-rendering="crispEdges"/>
<line x1="237.5" y1="1498" x2="237.5" y2="1503" stroke="#202020" shape-rendering="crispEdges"/>
<text x="224 231.25 235.24 243.25 250.24" y="1514" class="s">4 Avr</text>
<line x1="262.5" y1="1501" x2="262.5" y2="1503" stroke="#d8d8d8" shape-rendering="crispEdges"/>
<line x1="287.5" y1="1501" x2="287.5" y2="1503" stroke="#d8d8d8" shape-rendering="crispEdges"/>
<line x1="312.5" y1="1501" x2="312.5" y2="1503" stroke="#d8d8d8" shape-rendering="crispEdges"/>
<line x1="337.5" y1="1501" x2="337.5" y2="1503" stroke="#d8d8d8" shape-rendering="crispEdges"/>
<line x1="362.5" y1="1498" x2="362.5" y2="1503" stroke="#202020" shape-rendering="crispEdges"/>
<text x="345.5 352.5 359.75 363.74 371.75 378.74" y="1514" class="s">11 Avr</text>
<line x1="387.5" y1="1501" x2="387.5" y2="1503" stroke="#d8d8d8" shape-rendering="crispEdges"/>
<line x1="412.5" y1="1501" x2="412.5" y2="1503" stroke="#d8d8d8" shape-rendering="crispEdges"/>
<line x1="437.5" y1="1501" x2="437.5" y2="1503" stroke="#d8d8d8" shape-rendering="crispEdges"/>
<line x1="462.5" y1="1501" x2="462.5" y2="1503" stroke="#d8d8d8" shape-rendering="crispEdges"/>
<line x1="487.5" y1="1498" x2="487.5" y2="1503" stroke="#202020" shape-rendering="crispEdges"/>
<text x="470.5 477.5 484.75 488.74 496.75 503.74" y="1514" class="s">22 Avr</text>
<line x1="512.5" y1="1501" x2="512.5" y2="1503" stroke="#d8d8d8" shape-rendering="crispEdges"/>
<line x1="537.5" y1="1501" x2="537.5" y2="1503" stroke="#d8d8d8" shape-rendering="crispEdges"/>
<line x1="562.5" y1="1501" x2="562.5" y2="1503" stroke="#d8d8d8" shape-rendering="crispEdges"/>
<line x1="587.5" y1="1501" x2="587.5" y2="1503" stroke="#d8d8d8" shape-rendering="crispEdges"/>
<line x1="612.5" y1="1498" x2="612.5" y2="1503" stroke="#202020" shape-rendering="crispEdges"/>
<text x="595.5 602.5 609.75 613.74 621.75 628.74" y="1514" class="s">29 Avr</text>
<line x1="637.5" y1="1501" x2="637.5" y2="1503" stroke="#d8d8d8" shape-rendering="crispEdges"/>
<line x1="662.5" y1="1501" x2="662.5" y2="1503" stroke="#d8d8d8" shape-rendering="crispEdges"/>
<line x1="687.5" y1="1501" x2="687.5" y2="1503" stroke="#d8d8d8" shape-rendering="crispEdges"/>
<line x1="712.5" y1="1501" x2="712.5" y2="1503" stroke="#d8d8d8" shape-rendering="crispEdges"/>
<line x1="737.5" y1="1498" x2="737.5" y2="1503" stroke="#202020" shape-rendering="crispEdges"/>
<text x="724.5 731.75 735.25 744.63 751.47" y="1514" class="s">7 Mai</text>
<line x1="762.5" y1="1501" x2="762.5" y2="1503" stroke="#d8d8d8" shape-rendering="crispEdges"/>
<line x1="787.5" y1="1501" x2="787.5" y2="1503" stroke="#d8d8d8" shape-rendering="crispEdges"/>
<line x1="812.5" y1="1501" x2="812.5" y2="1503" stroke="#d8d8d8" shape-rendering="crispEdges"/>
<line x1="837.5" y1="1501" x2="837.5" y2="1503" stroke="#d8d8d8" shape-rendering="crispEdges"/>
<line x1="862.5" y1="1498" x2="862.5" y2="1503" stroke="#202020" shape-rendering="crispEdges"/>
<text x="846 853 860.25 863.75 873.13 879.97" y="1514" class="s">14 Mai</text>
<line x1="887.5" y1="1501" x2="887.5" y2="1503" stroke="#d8d8d8" shape-rendering="crispEdges"/>
<line x1="912.5" y1="1501" x2="912.5" y2="1503" stroke="#d8d8d8" shape-rendering="crispEdges"/>
<line x1="937.5" y1="1501" x2="937.5" y2="1503" stroke="#d8d8d8" shape-rendering="crispEdges"/>
<line x1="962.5" y1="1501" x2="962.5" y2="1503" stroke="#d8d8d8" shape-rendering="crispEdges"/>
<line x1="987.5" y1="1498" x2="987.5" y2="1503" stroke="#202020" shape-rendering="crispEdges"/>
<text x="971 978 985.25 988.75 998.13 1004.97" y="1514" class="s">21 Mai</text>
<line x1="1012.5" y1="1501" x2="1012.5" y2="1503" stroke="#d8d8d8" shape-rendering="crispEdges"/>
<line x1="1037.5" y1="1501" x2="1037.5" y2="1503" stroke="#d8d8d8" shape-rendering="crispEdges"/>
<line x1="1062.5" y1="1501" x2="1062.5" y2="1503" stroke="#d8d8d8" shape-rendering="crispEdges"/>
<line x1="1087.5" y1="1501" x2="1087.5" y2="1503" stroke="#d8d8d8" shape-rendering="crispEdges"/>
<line x1="1112.5" y1="1498" x2="1112.5" y2="1503" stroke="#202020" shape-rendering="crispEdges"/>
<text x="1096 1103 1110.25 1113.75 1123.13 1129.97" y="1514" class="s">28 Mai</text>
<line x1="1137.5" y1="1501" x2="1137.5" y2="1503" stroke="#d8d8d8" shape-rendering="crispEdges"/>
<text x="513.16 521.53 528.24 532.52 539.65 543.75 548.41 555.41 562.65 566.4 573.4 580.65 584.15 593.53 600.64 605.53 611.65 615.4 622.4 629.4 636.4 643.65 647.53 654.41 661.65 665.4 672.4 679.65 683.15 692.53 699.37 702.65 706.4 713.4 720.4 727.4 734.75" y="1524.8" class="s">Date (du 28 Mars 2014 au 29 Mai 2014)</text>
<g transform="translate(67.2 1410.5) rotate(-90)"><text x="-16.75 -7.26 0.66 8.26" y="0" class="s">MACD</text></g>
<text x="109.7 126.54 141.52 148.1 156.15 166.15 172.31 186.02 197.39 211.01 226.42 241.51 248.5 263.2 278.05 288.05 299.81 315.69 325.69 337 357.95 374.81 391.66 401.66 419.58 429.58 436 456.54 473.03 489.49 509.12 519.26 535.14 550.86 559.28 574.25 590.37 598.56 614.58 624.58 633.28 643.28 650.82 667.12 682.58 696.62 703.33 717.23 733.91 748.59 762.77 773.84 786.17 801.19 809.15 821.86 836.49" y="1294.5" class="t">Bull: graphique du MACD - MACD(12,26,9) - AnalyBourse.com</text>
</svg></body></html>
